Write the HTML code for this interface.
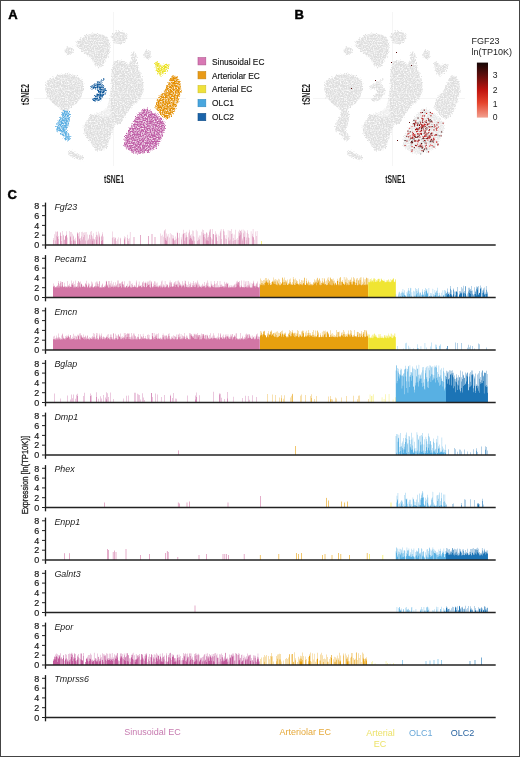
<!DOCTYPE html>
<html><head><meta charset="utf-8"><style>
html,body{margin:0;padding:0;background:#fff;}
body{width:520px;height:757px;overflow:hidden;position:relative;}
svg{position:absolute;left:0;top:0;will-change:transform;}
text{font-family:"Liberation Sans",sans-serif;fill:#1a1a1a;}
.pl{font-weight:bold;font-size:13px;fill:#000;stroke:#000;stroke-width:0.45px;}
.tk{font-size:9.8px;text-anchor:end;fill:#1a1a1a;stroke:#1a1a1a;stroke-width:0.2px;}
.gn{font-size:9.9px;font-style:italic;fill:#222;}
.lg{font-size:9.4px;fill:#151515;stroke:#151515;stroke-width:0.15px;}
.bl{font-size:9px;}
.ax{font-size:11px;fill:#1e1e1e;font-weight:bold;}
.ex{font-size:10px;fill:#2a2a2a;}
</style></head><body>
<svg width="520" height="757" viewBox="0 0 520 757">
<defs>
<filter id="tx" x="-10%" y="-10%" width="120%" height="120%" color-interpolation-filters="sRGB">
<feTurbulence type="fractalNoise" baseFrequency="0.8" numOctaves="2" seed="2" result="n"/>
<feDisplacementMap in="SourceGraphic" in2="n" scale="4.5" xChannelSelector="R" yChannelSelector="G" result="d0"/>
<feGaussianBlur in="d0" stdDeviation="0.45" result="d"/>
<feTurbulence type="fractalNoise" baseFrequency="0.7" numOctaves="2" seed="5" result="n2"/>
<feColorMatrix in="n2" type="matrix" values="0 0 0 0 1  0 0 0 0 1  0 0 0 0 1  2.4 0 0 0 -0.95" result="w"/>
<feComposite in="w" in2="d" operator="in" result="w2"/>
<feMerge><feMergeNode in="d"/><feMergeNode in="w2"/></feMerge>
</filter>
<linearGradient id="cb" x1="0" y1="1" x2="0" y2="0">
<stop offset="0" stop-color="#f2a08f"/><stop offset="0.27" stop-color="#e5432c"/><stop offset="0.5" stop-color="#c0140f"/><stop offset="0.77" stop-color="#5e0e0c"/><stop offset="1" stop-color="#150606"/>
</linearGradient></defs>
<rect x="0.5" y="0.5" width="519" height="756" fill="#fff" stroke="#444" stroke-width="1"/>
<text x="8.3" y="19.1" class="pl">A</text>
<text x="294.4" y="19.2" class="pl">B</text>
<text x="7.6" y="198.7" class="pl">C</text>
<g transform="translate(0,0)">
<path d="M113.5,12V166M34,98.5H186" stroke="#f3f3f3" stroke-width="0.8" fill="none"/>
<g filter="url(#tx)">
<path d="M84.6,35.8 L92.3,33.5 L101.5,34.2 L107.7,37.3 L110.0,43.5 L109.2,52.7 L107.0,58.0 L104.5,62.5 L102.0,66.5 L98.0,67.5 L94.5,65.0 L92.0,60.0 L89.2,56.5 L83.0,52.0 L77.0,46.5 L76.0,42.0 L80.0,38.8Z" fill="#dedede"/>
<ellipse cx="119.5" cy="37.5" rx="8" ry="6.5" fill="#dedede"/>
<ellipse cx="69" cy="51" rx="4.5" ry="4" fill="#dedede"/>
<ellipse cx="147.5" cy="54.5" rx="3.3" ry="4.6" fill="#dedede"/>
<path d="M50.4,78.8 L58.0,75.0 L68.8,73.5 L76.5,75.8 L82.7,80.4 L84.2,88.0 L81.0,97.3 L76.5,103.5 L71.0,107.0 L68.0,110.0 L63.0,111.0 L59.0,108.0 L53.5,103.5 L47.3,97.3 L45.0,88.0 L46.5,82.0Z" fill="#dedede"/>
<path d="M113.8,61.5 L120.0,60.5 L126.0,62.0 L128.5,66.0 L131.0,60.0 L131.5,53.0 L134.0,51.0 L136.5,55.0 L137.0,63.0 L138.0,67.3 L142.7,78.8 L143.8,90.4 L140.4,98.4 L134.6,104.2 L128.8,110.0 L126.5,113.5 L121.0,123.0 L114.4,125.0 L111.7,133.6 L109.0,140.4 L107.7,147.0 L102.3,151.0 L95.6,151.0 L92.2,144.4 L84.8,135.0 L83.5,127.0 L87.5,120.0 L90.2,114.8 L97.0,113.5 L103.6,110.8 L107.5,106.0 L109.2,100.0 L110.4,96.0 L111.0,84.6 L111.5,73.0 L112.5,66.0Z" fill="#dedede"/>
<path d="M67.5,152.0 L72.0,150.5 L76.0,153.0 L80.0,155.0 L84.0,157.5 L82.0,160.5 L77.0,159.0 L72.0,156.5 L68.5,155.0Z" fill="#dedede"/>
<path d="M62.0,111.0 L67.0,110.5 L70.0,113.0 L70.0,120.0 L68.0,127.0 L66.0,131.0 L69.0,134.0 L71.0,138.0 L69.0,141.0 L65.0,140.0 L63.0,136.0 L60.0,133.0 L56.0,130.0 L56.0,125.0 L59.0,120.0 L61.0,116.0Z" fill="#5aaee2"/>
<path d="M104.6,78.4 L101.5,80.5 L98.0,81.5 L96.0,84.0 L93.5,84.5 L90.2,86.2 L91.3,89.5 L95.0,88.5 L97.5,89.5 L97.0,93.0 L95.0,95.5 L92.5,98.3 L94.8,101.7 L100.0,100.6 L102.5,97.0 L104.6,94.2 L106.3,90.2 L103.0,86.0 L101.0,83.0 L104.6,79.5Z" fill="#125a9c"/>
<path d="M155.0,63.0 L158.0,61.8 L160.0,64.0 L162.0,67.0 L164.0,65.0 L167.0,63.5 L169.7,64.5 L168.0,69.0 L165.0,73.0 L161.0,75.8 L158.0,74.0 L156.0,69.0Z" fill="#ebe01c"/>
<path d="M170.4,76.2 L174.2,75.0 L178.0,77.7 L180.4,81.5 L181.2,89.2 L179.6,97.0 L178.0,103.0 L175.8,108.5 L172.7,113.8 L170.4,117.7 L166.5,119.2 L162.7,116.2 L158.0,111.5 L155.0,107.7 L156.5,102.3 L158.8,96.2 L163.5,92.3 L165.8,88.5 L168.0,83.8 L169.6,79.2Z" fill="#e48e00"/>
<path d="M142.1,109.8 L146.0,108.3 L150.8,110.7 L156.5,114.6 L162.3,119.4 L165.2,125.2 L164.2,131.9 L161.3,137.7 L158.5,144.4 L154.6,149.2 L148.8,152.1 L141.2,154.0 L133.5,153.0 L125.8,148.2 L123.8,144.4 L124.8,137.7 L128.7,130.0 L132.5,123.2 L136.3,116.5 L139.2,112.7Z" fill="#bf5ea6"/>
</g>
<path d="M104,101 L110.5,98.5 L110.8,116 L104,117.5 L96.5,114.5 L100,108Z" fill="#fff" opacity="0.45"/>
</g>
<g transform="translate(279,0)">
<path d="M113.5,12V166M34,98.5H186" stroke="#f3f3f3" stroke-width="0.8" fill="none"/>
<g filter="url(#tx)">
<path d="M84.6,35.8 L92.3,33.5 L101.5,34.2 L107.7,37.3 L110.0,43.5 L109.2,52.7 L107.0,58.0 L104.5,62.5 L102.0,66.5 L98.0,67.5 L94.5,65.0 L92.0,60.0 L89.2,56.5 L83.0,52.0 L77.0,46.5 L76.0,42.0 L80.0,38.8Z" fill="#dedede"/>
<ellipse cx="119.5" cy="37.5" rx="8" ry="6.5" fill="#dedede"/>
<ellipse cx="69" cy="51" rx="4.5" ry="4" fill="#dedede"/>
<ellipse cx="147.5" cy="54.5" rx="3.3" ry="4.6" fill="#dedede"/>
<path d="M50.4,78.8 L58.0,75.0 L68.8,73.5 L76.5,75.8 L82.7,80.4 L84.2,88.0 L81.0,97.3 L76.5,103.5 L71.0,107.0 L68.0,110.0 L63.0,111.0 L59.0,108.0 L53.5,103.5 L47.3,97.3 L45.0,88.0 L46.5,82.0Z" fill="#dedede"/>
<path d="M113.8,61.5 L120.0,60.5 L126.0,62.0 L128.5,66.0 L131.0,60.0 L131.5,53.0 L134.0,51.0 L136.5,55.0 L137.0,63.0 L138.0,67.3 L142.7,78.8 L143.8,90.4 L140.4,98.4 L134.6,104.2 L128.8,110.0 L126.5,113.5 L121.0,123.0 L114.4,125.0 L111.7,133.6 L109.0,140.4 L107.7,147.0 L102.3,151.0 L95.6,151.0 L92.2,144.4 L84.8,135.0 L83.5,127.0 L87.5,120.0 L90.2,114.8 L97.0,113.5 L103.6,110.8 L107.5,106.0 L109.2,100.0 L110.4,96.0 L111.0,84.6 L111.5,73.0 L112.5,66.0Z" fill="#dedede"/>
<path d="M67.5,152.0 L72.0,150.5 L76.0,153.0 L80.0,155.0 L84.0,157.5 L82.0,160.5 L77.0,159.0 L72.0,156.5 L68.5,155.0Z" fill="#dedede"/>
<path d="M62.0,111.0 L67.0,110.5 L70.0,113.0 L70.0,120.0 L68.0,127.0 L66.0,131.0 L69.0,134.0 L71.0,138.0 L69.0,141.0 L65.0,140.0 L63.0,136.0 L60.0,133.0 L56.0,130.0 L56.0,125.0 L59.0,120.0 L61.0,116.0Z" fill="#dedede"/>
<path d="M104.6,78.4 L101.5,80.5 L98.0,81.5 L96.0,84.0 L93.5,84.5 L90.2,86.2 L91.3,89.5 L95.0,88.5 L97.5,89.5 L97.0,93.0 L95.0,95.5 L92.5,98.3 L94.8,101.7 L100.0,100.6 L102.5,97.0 L104.6,94.2 L106.3,90.2 L103.0,86.0 L101.0,83.0 L104.6,79.5Z" fill="#dedede"/>
<path d="M155.0,63.0 L158.0,61.8 L160.0,64.0 L162.0,67.0 L164.0,65.0 L167.0,63.5 L169.7,64.5 L168.0,69.0 L165.0,73.0 L161.0,75.8 L158.0,74.0 L156.0,69.0Z" fill="#dedede"/>
<path d="M170.4,76.2 L174.2,75.0 L178.0,77.7 L180.4,81.5 L181.2,89.2 L179.6,97.0 L178.0,103.0 L175.8,108.5 L172.7,113.8 L170.4,117.7 L166.5,119.2 L162.7,116.2 L158.0,111.5 L155.0,107.7 L156.5,102.3 L158.8,96.2 L163.5,92.3 L165.8,88.5 L168.0,83.8 L169.6,79.2Z" fill="#dedede"/>
<path d="M142.1,109.8 L146.0,108.3 L150.8,110.7 L156.5,114.6 L162.3,119.4 L165.2,125.2 L164.2,131.9 L161.3,137.7 L158.5,144.4 L154.6,149.2 L148.8,152.1 L141.2,154.0 L133.5,153.0 L125.8,148.2 L123.8,144.4 L124.8,137.7 L128.7,130.0 L132.5,123.2 L136.3,116.5 L139.2,112.7Z" fill="#e8e8e8"/>
</g>
<path d="M104,101 L110.5,98.5 L110.8,116 L104,117.5 L96.5,114.5 L100,108Z" fill="#fff" opacity="0.45"/>
</g>
<rect x="408.1" y="136.3" width="1.1" height="1.1" fill="#a00e0e"/>
<rect x="428.0" y="151.3" width="1.1" height="1.1" fill="#a00e0e"/>
<rect x="428.4" y="137.5" width="1.1" height="1.1" fill="#d42020"/>
<rect x="411.8" y="139.7" width="1.1" height="1.1" fill="#9a9a9a"/>
<rect x="422.9" y="128.4" width="1.1" height="1.1" fill="#c81212"/>
<rect x="423.9" y="140.0" width="1.1" height="1.1" fill="#c81212"/>
<rect x="422.6" y="121.9" width="1.1" height="1.1" fill="#9a9a9a"/>
<rect x="428.0" y="120.4" width="1.1" height="1.1" fill="#b8b8b8"/>
<rect x="420.7" y="133.1" width="1.1" height="1.1" fill="#d42020"/>
<rect x="412.8" y="134.5" width="1.1" height="1.1" fill="#e05050"/>
<rect x="441.1" y="131.4" width="1.1" height="1.1" fill="#4a0a0a"/>
<rect x="418.0" y="139.6" width="1.1" height="1.1" fill="#4a0a0a"/>
<rect x="434.3" y="134.8" width="1.1" height="1.1" fill="#d42020"/>
<rect x="404.5" y="145.0" width="1.1" height="1.1" fill="#b01010"/>
<rect x="422.8" y="132.9" width="1.1" height="1.1" fill="#b8b8b8"/>
<rect x="428.2" y="132.0" width="1.1" height="1.1" fill="#c81212"/>
<rect x="417.7" y="134.7" width="1.1" height="1.1" fill="#b8b8b8"/>
<rect x="426.0" y="148.3" width="1.1" height="1.1" fill="#300606"/>
<rect x="429.1" y="137.4" width="1.1" height="1.1" fill="#b01010"/>
<rect x="421.3" y="126.2" width="1.1" height="1.1" fill="#7a0a0a"/>
<rect x="420.6" y="130.4" width="1.1" height="1.1" fill="#a00e0e"/>
<rect x="422.9" y="125.1" width="1.1" height="1.1" fill="#e05050"/>
<rect x="425.7" y="144.7" width="1.1" height="1.1" fill="#8a0c0c"/>
<rect x="412.0" y="137.5" width="1.1" height="1.1" fill="#b01010"/>
<rect x="414.6" y="135.8" width="1.1" height="1.1" fill="#4a0a0a"/>
<rect x="427.7" y="132.9" width="1.1" height="1.1" fill="#9a9a9a"/>
<rect x="418.0" y="127.9" width="1.1" height="1.1" fill="#8a0c0c"/>
<rect x="422.9" y="140.7" width="1.1" height="1.1" fill="#9a9a9a"/>
<rect x="416.8" y="140.5" width="1.1" height="1.1" fill="#d42020"/>
<rect x="427.4" y="135.5" width="1.1" height="1.1" fill="#b8b8b8"/>
<rect x="421.6" y="147.6" width="1.1" height="1.1" fill="#300606"/>
<rect x="417.1" y="127.8" width="1.1" height="1.1" fill="#9a9a9a"/>
<rect x="407.3" y="133.5" width="1.1" height="1.1" fill="#b01010"/>
<rect x="423.5" y="138.1" width="1.1" height="1.1" fill="#7a0a0a"/>
<rect x="424.3" y="124.1" width="1.1" height="1.1" fill="#7a0a0a"/>
<rect x="429.0" y="145.6" width="1.1" height="1.1" fill="#e05050"/>
<rect x="431.5" y="121.4" width="1.1" height="1.1" fill="#b01010"/>
<rect x="425.8" y="133.6" width="1.1" height="1.1" fill="#e05050"/>
<rect x="428.5" y="130.0" width="1.1" height="1.1" fill="#b01010"/>
<rect x="420.1" y="153.4" width="1.1" height="1.1" fill="#9a9a9a"/>
<rect x="408.3" y="132.8" width="1.1" height="1.1" fill="#d42020"/>
<rect x="429.4" y="141.4" width="1.1" height="1.1" fill="#b8b8b8"/>
<rect x="429.7" y="119.3" width="1.1" height="1.1" fill="#4a0a0a"/>
<rect x="421.0" y="127.6" width="1.1" height="1.1" fill="#b01010"/>
<rect x="417.5" y="133.4" width="1.1" height="1.1" fill="#8a0c0c"/>
<rect x="418.4" y="145.9" width="1.1" height="1.1" fill="#8a0c0c"/>
<rect x="425.8" y="135.4" width="1.1" height="1.1" fill="#a00e0e"/>
<rect x="436.2" y="129.9" width="1.1" height="1.1" fill="#e05050"/>
<rect x="416.0" y="128.8" width="1.1" height="1.1" fill="#c81212"/>
<rect x="431.6" y="126.0" width="1.1" height="1.1" fill="#300606"/>
<rect x="435.8" y="134.2" width="1.1" height="1.1" fill="#a00e0e"/>
<rect x="429.3" y="136.1" width="1.1" height="1.1" fill="#8a0c0c"/>
<rect x="425.2" y="132.0" width="1.1" height="1.1" fill="#e05050"/>
<rect x="418.9" y="134.6" width="1.1" height="1.1" fill="#8a0c0c"/>
<rect x="411.5" y="146.0" width="1.1" height="1.1" fill="#d42020"/>
<rect x="428.5" y="123.3" width="1.1" height="1.1" fill="#c81212"/>
<rect x="430.0" y="120.7" width="1.1" height="1.1" fill="#9a9a9a"/>
<rect x="415.6" y="122.4" width="1.1" height="1.1" fill="#c81212"/>
<rect x="417.7" y="129.0" width="1.1" height="1.1" fill="#b8b8b8"/>
<rect x="427.1" y="137.9" width="1.1" height="1.1" fill="#b01010"/>
<rect x="419.6" y="120.7" width="1.1" height="1.1" fill="#9a9a9a"/>
<rect x="409.7" y="135.4" width="1.1" height="1.1" fill="#e05050"/>
<rect x="436.1" y="141.6" width="1.1" height="1.1" fill="#c81212"/>
<rect x="419.3" y="136.6" width="1.1" height="1.1" fill="#c81212"/>
<rect x="423.0" y="149.7" width="1.1" height="1.1" fill="#a00e0e"/>
<rect x="423.9" y="115.4" width="1.1" height="1.1" fill="#a00e0e"/>
<rect x="420.9" y="133.7" width="1.1" height="1.1" fill="#4a0a0a"/>
<rect x="430.0" y="144.4" width="1.1" height="1.1" fill="#e05050"/>
<rect x="414.9" y="121.5" width="1.1" height="1.1" fill="#7a0a0a"/>
<rect x="413.8" y="147.1" width="1.1" height="1.1" fill="#7a0a0a"/>
<rect x="421.2" y="124.3" width="1.1" height="1.1" fill="#7a0a0a"/>
<rect x="410.6" y="142.1" width="1.1" height="1.1" fill="#300606"/>
<rect x="422.4" y="138.0" width="1.1" height="1.1" fill="#300606"/>
<rect x="431.6" y="112.9" width="1.1" height="1.1" fill="#d42020"/>
<rect x="429.0" y="129.1" width="1.1" height="1.1" fill="#8a0c0c"/>
<rect x="430.0" y="140.5" width="1.1" height="1.1" fill="#7a0a0a"/>
<rect x="426.0" y="122.1" width="1.1" height="1.1" fill="#e05050"/>
<rect x="411.9" y="132.4" width="1.1" height="1.1" fill="#9a9a9a"/>
<rect x="417.0" y="133.3" width="1.1" height="1.1" fill="#c81212"/>
<rect x="418.5" y="147.5" width="1.1" height="1.1" fill="#b8b8b8"/>
<rect x="417.5" y="117.5" width="1.1" height="1.1" fill="#4a0a0a"/>
<rect x="414.2" y="122.9" width="1.1" height="1.1" fill="#7a0a0a"/>
<rect x="440.5" y="135.3" width="1.1" height="1.1" fill="#7a0a0a"/>
<rect x="424.4" y="111.8" width="1.1" height="1.1" fill="#b8b8b8"/>
<rect x="424.8" y="135.7" width="1.1" height="1.1" fill="#e05050"/>
<rect x="436.4" y="127.5" width="1.1" height="1.1" fill="#7a0a0a"/>
<rect x="424.6" y="124.1" width="1.1" height="1.1" fill="#c81212"/>
<rect x="421.4" y="117.8" width="1.1" height="1.1" fill="#c81212"/>
<rect x="424.6" y="140.3" width="1.1" height="1.1" fill="#300606"/>
<rect x="418.7" y="124.2" width="1.1" height="1.1" fill="#b01010"/>
<rect x="436.3" y="124.4" width="1.1" height="1.1" fill="#8a0c0c"/>
<rect x="414.4" y="134.3" width="1.1" height="1.1" fill="#c81212"/>
<rect x="411.3" y="142.4" width="1.1" height="1.1" fill="#e05050"/>
<rect x="406.2" y="135.8" width="1.1" height="1.1" fill="#7a0a0a"/>
<rect x="426.6" y="138.0" width="1.1" height="1.1" fill="#b01010"/>
<rect x="427.0" y="123.6" width="1.1" height="1.1" fill="#d42020"/>
<rect x="430.3" y="134.4" width="1.1" height="1.1" fill="#b01010"/>
<rect x="422.4" y="118.8" width="1.1" height="1.1" fill="#c81212"/>
<rect x="418.5" y="133.3" width="1.1" height="1.1" fill="#e05050"/>
<rect x="411.6" y="149.4" width="1.1" height="1.1" fill="#8a0c0c"/>
<rect x="431.3" y="123.9" width="1.1" height="1.1" fill="#b8b8b8"/>
<rect x="427.4" y="136.2" width="1.1" height="1.1" fill="#e05050"/>
<rect x="415.2" y="129.4" width="1.1" height="1.1" fill="#e05050"/>
<rect x="428.5" y="119.7" width="1.1" height="1.1" fill="#4a0a0a"/>
<rect x="430.9" y="120.5" width="1.1" height="1.1" fill="#4a0a0a"/>
<rect x="424.9" y="145.6" width="1.1" height="1.1" fill="#e05050"/>
<rect x="431.2" y="132.3" width="1.1" height="1.1" fill="#e05050"/>
<rect x="433.4" y="129.4" width="1.1" height="1.1" fill="#b01010"/>
<rect x="424.3" y="135.5" width="1.1" height="1.1" fill="#8a0c0c"/>
<rect x="433.0" y="137.8" width="1.1" height="1.1" fill="#b01010"/>
<rect x="437.6" y="122.1" width="1.1" height="1.1" fill="#b01010"/>
<rect x="419.6" y="144.9" width="1.1" height="1.1" fill="#8a0c0c"/>
<rect x="416.0" y="131.1" width="1.1" height="1.1" fill="#b01010"/>
<rect x="433.5" y="146.5" width="1.1" height="1.1" fill="#c81212"/>
<rect x="427.0" y="133.5" width="1.1" height="1.1" fill="#c81212"/>
<rect x="417.4" y="122.6" width="1.1" height="1.1" fill="#300606"/>
<rect x="421.4" y="145.5" width="1.1" height="1.1" fill="#a00e0e"/>
<rect x="420.4" y="126.2" width="1.1" height="1.1" fill="#e05050"/>
<rect x="435.7" y="134.4" width="1.1" height="1.1" fill="#e05050"/>
<rect x="429.5" y="121.3" width="1.1" height="1.1" fill="#7a0a0a"/>
<rect x="422.9" y="150.8" width="1.1" height="1.1" fill="#300606"/>
<rect x="428.5" y="126.2" width="1.1" height="1.1" fill="#300606"/>
<rect x="426.3" y="127.2" width="1.1" height="1.1" fill="#7a0a0a"/>
<rect x="425.3" y="128.0" width="1.1" height="1.1" fill="#7a0a0a"/>
<rect x="424.0" y="135.7" width="1.1" height="1.1" fill="#b01010"/>
<rect x="437.3" y="144.4" width="1.1" height="1.1" fill="#b01010"/>
<rect x="425.5" y="147.4" width="1.1" height="1.1" fill="#c81212"/>
<rect x="432.2" y="140.5" width="1.1" height="1.1" fill="#300606"/>
<rect x="430.3" y="141.1" width="1.1" height="1.1" fill="#300606"/>
<rect x="422.5" y="136.1" width="1.1" height="1.1" fill="#d42020"/>
<rect x="438.6" y="135.0" width="1.1" height="1.1" fill="#9a9a9a"/>
<rect x="407.4" y="130.6" width="1.1" height="1.1" fill="#8a0c0c"/>
<rect x="422.9" y="137.3" width="1.1" height="1.1" fill="#8a0c0c"/>
<rect x="425.2" y="129.7" width="1.1" height="1.1" fill="#c81212"/>
<rect x="431.5" y="145.0" width="1.1" height="1.1" fill="#d42020"/>
<rect x="421.9" y="121.8" width="1.1" height="1.1" fill="#a00e0e"/>
<rect x="412.2" y="136.8" width="1.1" height="1.1" fill="#7a0a0a"/>
<rect x="419.6" y="130.9" width="1.1" height="1.1" fill="#c81212"/>
<rect x="424.7" y="126.0" width="1.1" height="1.1" fill="#a00e0e"/>
<rect x="414.6" y="140.5" width="1.1" height="1.1" fill="#7a0a0a"/>
<rect x="417.3" y="128.9" width="1.1" height="1.1" fill="#c81212"/>
<rect x="419.0" y="136.3" width="1.1" height="1.1" fill="#b8b8b8"/>
<rect x="433.7" y="126.5" width="1.1" height="1.1" fill="#7a0a0a"/>
<rect x="423.7" y="123.6" width="1.1" height="1.1" fill="#d42020"/>
<rect x="420.4" y="112.1" width="1.1" height="1.1" fill="#b01010"/>
<rect x="427.3" y="139.6" width="1.1" height="1.1" fill="#e05050"/>
<rect x="422.0" y="120.3" width="1.1" height="1.1" fill="#8a0c0c"/>
<rect x="429.7" y="136.5" width="1.1" height="1.1" fill="#a00e0e"/>
<rect x="429.0" y="134.8" width="1.1" height="1.1" fill="#b8b8b8"/>
<rect x="418.8" y="139.6" width="1.1" height="1.1" fill="#b01010"/>
<rect x="435.4" y="134.3" width="1.1" height="1.1" fill="#7a0a0a"/>
<rect x="420.6" y="143.6" width="1.1" height="1.1" fill="#c81212"/>
<rect x="422.1" y="115.4" width="1.1" height="1.1" fill="#c81212"/>
<rect x="427.5" y="137.1" width="1.1" height="1.1" fill="#300606"/>
<rect x="409.1" y="127.8" width="1.1" height="1.1" fill="#e05050"/>
<rect x="433.6" y="139.1" width="1.1" height="1.1" fill="#c81212"/>
<rect x="429.1" y="120.7" width="1.1" height="1.1" fill="#9a9a9a"/>
<rect x="409.7" y="138.7" width="1.1" height="1.1" fill="#9a9a9a"/>
<rect x="416.1" y="145.1" width="1.1" height="1.1" fill="#a00e0e"/>
<rect x="413.4" y="119.8" width="1.1" height="1.1" fill="#4a0a0a"/>
<rect x="438.8" y="135.3" width="1.1" height="1.1" fill="#9a9a9a"/>
<rect x="426.9" y="133.8" width="1.1" height="1.1" fill="#b8b8b8"/>
<rect x="421.0" y="128.3" width="1.1" height="1.1" fill="#300606"/>
<rect x="410.2" y="137.6" width="1.1" height="1.1" fill="#7a0a0a"/>
<rect x="425.6" y="133.5" width="1.1" height="1.1" fill="#a00e0e"/>
<rect x="421.5" y="150.0" width="1.1" height="1.1" fill="#c81212"/>
<rect x="412.8" y="123.1" width="1.1" height="1.1" fill="#7a0a0a"/>
<rect x="427.3" y="123.7" width="1.1" height="1.1" fill="#8a0c0c"/>
<rect x="429.1" y="140.8" width="1.1" height="1.1" fill="#b8b8b8"/>
<rect x="408.7" y="139.8" width="1.1" height="1.1" fill="#b8b8b8"/>
<rect x="411.5" y="126.1" width="1.1" height="1.1" fill="#e05050"/>
<rect x="423.3" y="126.3" width="1.1" height="1.1" fill="#4a0a0a"/>
<rect x="420.2" y="123.6" width="1.1" height="1.1" fill="#d42020"/>
<rect x="412.0" y="131.8" width="1.1" height="1.1" fill="#e05050"/>
<rect x="414.0" y="124.3" width="1.1" height="1.1" fill="#4a0a0a"/>
<rect x="418.9" y="124.9" width="1.1" height="1.1" fill="#4a0a0a"/>
<rect x="421.1" y="124.5" width="1.1" height="1.1" fill="#7a0a0a"/>
<rect x="426.3" y="148.4" width="1.1" height="1.1" fill="#b8b8b8"/>
<rect x="428.7" y="135.4" width="1.1" height="1.1" fill="#b01010"/>
<rect x="423.9" y="132.5" width="1.1" height="1.1" fill="#7a0a0a"/>
<rect x="417.1" y="130.8" width="1.1" height="1.1" fill="#d42020"/>
<rect x="426.3" y="128.5" width="1.1" height="1.1" fill="#7a0a0a"/>
<rect x="414.1" y="123.8" width="1.1" height="1.1" fill="#a00e0e"/>
<rect x="415.2" y="140.3" width="1.1" height="1.1" fill="#a00e0e"/>
<rect x="425.7" y="134.6" width="1.1" height="1.1" fill="#9a9a9a"/>
<rect x="430.4" y="115.2" width="1.1" height="1.1" fill="#a00e0e"/>
<rect x="413.8" y="136.1" width="1.1" height="1.1" fill="#8a0c0c"/>
<rect x="410.6" y="144.3" width="1.1" height="1.1" fill="#9a9a9a"/>
<rect x="415.0" y="144.9" width="1.1" height="1.1" fill="#8a0c0c"/>
<rect x="411.9" y="136.8" width="1.1" height="1.1" fill="#d42020"/>
<rect x="412.0" y="134.4" width="1.1" height="1.1" fill="#e05050"/>
<rect x="432.7" y="139.4" width="1.1" height="1.1" fill="#a00e0e"/>
<rect x="425.7" y="120.2" width="1.1" height="1.1" fill="#c81212"/>
<rect x="427.5" y="135.7" width="1.1" height="1.1" fill="#b8b8b8"/>
<rect x="424.0" y="148.5" width="1.1" height="1.1" fill="#300606"/>
<rect x="417.5" y="136.3" width="1.1" height="1.1" fill="#a00e0e"/>
<rect x="442.6" y="122.6" width="1.1" height="1.1" fill="#a00e0e"/>
<rect x="413.8" y="134.1" width="1.1" height="1.1" fill="#e05050"/>
<rect x="421.1" y="142.9" width="1.1" height="1.1" fill="#300606"/>
<rect x="436.6" y="134.6" width="1.1" height="1.1" fill="#9a9a9a"/>
<rect x="415.7" y="136.9" width="1.1" height="1.1" fill="#9a9a9a"/>
<rect x="413.9" y="140.4" width="1.1" height="1.1" fill="#8a0c0c"/>
<rect x="428.0" y="119.3" width="1.1" height="1.1" fill="#8a0c0c"/>
<rect x="430.8" y="138.8" width="1.1" height="1.1" fill="#4a0a0a"/>
<rect x="423.8" y="124.5" width="1.1" height="1.1" fill="#c81212"/>
<rect x="435.9" y="128.5" width="1.1" height="1.1" fill="#b01010"/>
<rect x="433.2" y="137.7" width="1.1" height="1.1" fill="#e05050"/>
<rect x="424.7" y="134.4" width="1.1" height="1.1" fill="#d42020"/>
<rect x="424.6" y="129.1" width="1.1" height="1.1" fill="#b8b8b8"/>
<rect x="418.3" y="127.7" width="1.1" height="1.1" fill="#b8b8b8"/>
<rect x="406.4" y="140.5" width="1.1" height="1.1" fill="#a00e0e"/>
<rect x="422.2" y="118.1" width="1.1" height="1.1" fill="#a00e0e"/>
<rect x="413.5" y="138.4" width="1.1" height="1.1" fill="#300606"/>
<rect x="415.3" y="120.1" width="1.1" height="1.1" fill="#e05050"/>
<rect x="422.4" y="127.8" width="1.1" height="1.1" fill="#9a9a9a"/>
<rect x="430.3" y="126.0" width="1.1" height="1.1" fill="#b8b8b8"/>
<rect x="420.5" y="132.8" width="1.1" height="1.1" fill="#b01010"/>
<rect x="435.5" y="127.7" width="1.1" height="1.1" fill="#e05050"/>
<rect x="420.0" y="133.3" width="1.1" height="1.1" fill="#d42020"/>
<rect x="411.3" y="137.7" width="1.1" height="1.1" fill="#8a0c0c"/>
<rect x="421.2" y="138.8" width="1.1" height="1.1" fill="#b8b8b8"/>
<rect x="416.5" y="136.9" width="1.1" height="1.1" fill="#7a0a0a"/>
<rect x="411.1" y="141.0" width="1.1" height="1.1" fill="#4a0a0a"/>
<rect x="424.6" y="131.2" width="1.1" height="1.1" fill="#4a0a0a"/>
<rect x="419.9" y="122.3" width="1.1" height="1.1" fill="#8a0c0c"/>
<rect x="422.1" y="124.9" width="1.1" height="1.1" fill="#c81212"/>
<rect x="421.0" y="129.9" width="1.1" height="1.1" fill="#a00e0e"/>
<rect x="423.4" y="130.3" width="1.1" height="1.1" fill="#d42020"/>
<rect x="424.2" y="142.3" width="1.1" height="1.1" fill="#9a9a9a"/>
<rect x="422.5" y="150.2" width="1.1" height="1.1" fill="#9a9a9a"/>
<rect x="409.7" y="131.3" width="1.1" height="1.1" fill="#4a0a0a"/>
<rect x="434.6" y="125.8" width="1.1" height="1.1" fill="#e05050"/>
<rect x="412.9" y="133.1" width="1.1" height="1.1" fill="#b01010"/>
<rect x="429.2" y="126.6" width="1.1" height="1.1" fill="#e05050"/>
<rect x="421.6" y="127.0" width="1.1" height="1.1" fill="#7a0a0a"/>
<rect x="415.1" y="136.8" width="1.1" height="1.1" fill="#8a0c0c"/>
<rect x="424.3" y="121.2" width="1.1" height="1.1" fill="#e05050"/>
<rect x="426.0" y="112.9" width="1.1" height="1.1" fill="#c81212"/>
<rect x="416.8" y="124.9" width="1.1" height="1.1" fill="#c81212"/>
<rect x="413.5" y="134.7" width="1.1" height="1.1" fill="#b01010"/>
<rect x="416.2" y="127.8" width="1.1" height="1.1" fill="#8a0c0c"/>
<rect x="421.8" y="125.6" width="1.1" height="1.1" fill="#e05050"/>
<rect x="432.7" y="145.9" width="1.1" height="1.1" fill="#9a9a9a"/>
<rect x="419.7" y="146.1" width="1.1" height="1.1" fill="#8a0c0c"/>
<rect x="415.1" y="128.9" width="1.1" height="1.1" fill="#7a0a0a"/>
<rect x="429.8" y="112.0" width="1.1" height="1.1" fill="#8a0c0c"/>
<rect x="428.2" y="136.5" width="1.1" height="1.1" fill="#e05050"/>
<rect x="430.8" y="139.5" width="1.1" height="1.1" fill="#a00e0e"/>
<rect x="436.1" y="141.5" width="1.1" height="1.1" fill="#e05050"/>
<rect x="426.6" y="124.4" width="1.1" height="1.1" fill="#7a0a0a"/>
<rect x="437.5" y="143.6" width="1.1" height="1.1" fill="#7a0a0a"/>
<rect x="431.5" y="134.8" width="1.1" height="1.1" fill="#a00e0e"/>
<rect x="417.6" y="141.2" width="1.1" height="1.1" fill="#d42020"/>
<rect x="419.1" y="128.3" width="1.1" height="1.1" fill="#d42020"/>
<rect x="419.1" y="127.0" width="1.1" height="1.1" fill="#b01010"/>
<rect x="422.1" y="126.3" width="1.1" height="1.1" fill="#a00e0e"/>
<rect x="431.2" y="132.9" width="1.1" height="1.1" fill="#a00e0e"/>
<rect x="422.1" y="146.8" width="1.1" height="1.1" fill="#a00e0e"/>
<rect x="423.8" y="109.6" width="1.1" height="1.1" fill="#7a0a0a"/>
<rect x="425.9" y="128.2" width="1.1" height="1.1" fill="#b8b8b8"/>
<rect x="411.7" y="142.1" width="1.1" height="1.1" fill="#4a0a0a"/>
<rect x="437.9" y="126.5" width="1.1" height="1.1" fill="#e05050"/>
<rect x="417.0" y="124.3" width="1.1" height="1.1" fill="#7a0a0a"/>
<rect x="417.4" y="135.9" width="1.1" height="1.1" fill="#4a0a0a"/>
<rect x="433.7" y="127.0" width="1.1" height="1.1" fill="#b8b8b8"/>
<rect x="411.3" y="150.8" width="1.1" height="1.1" fill="#d42020"/>
<rect x="432.7" y="141.6" width="1.1" height="1.1" fill="#8a0c0c"/>
<rect x="425.5" y="142.6" width="1.1" height="1.1" fill="#a00e0e"/>
<rect x="417.2" y="129.3" width="1.1" height="1.1" fill="#7a0a0a"/>
<rect x="404.5" y="140.0" width="1.1" height="1.1" fill="#300606"/>
<rect x="430.7" y="126.2" width="1.1" height="1.1" fill="#e05050"/>
<rect x="425.6" y="138.0" width="1.1" height="1.1" fill="#8a0c0c"/>
<rect x="425.5" y="121.8" width="1.1" height="1.1" fill="#300606"/>
<rect x="433.9" y="124.4" width="1.1" height="1.1" fill="#b01010"/>
<rect x="414.0" y="125.4" width="1.1" height="1.1" fill="#7a0a0a"/>
<rect x="430.4" y="133.2" width="1.1" height="1.1" fill="#300606"/>
<rect x="417.0" y="143.6" width="1.1" height="1.1" fill="#e05050"/>
<rect x="412.0" y="141.5" width="1.1" height="1.1" fill="#4a0a0a"/>
<rect x="427.6" y="117.9" width="1.1" height="1.1" fill="#8a0c0c"/>
<rect x="420.7" y="146.3" width="1.1" height="1.1" fill="#4a0a0a"/>
<rect x="396" y="52" width="1" height="1" fill="#5a0a0a"/>
<rect x="411" y="65" width="1" height="1" fill="#5a0a0a"/>
<rect x="391" y="62" width="1" height="1" fill="#5a0a0a"/>
<rect x="375" y="80" width="1" height="1" fill="#5a0a0a"/>
<rect x="351" y="88" width="1" height="1" fill="#5a0a0a"/>
<rect x="409" y="122" width="1" height="1" fill="#5a0a0a"/>
<rect x="422" y="112" width="1" height="1" fill="#5a0a0a"/>
<rect x="397" y="140" width="1" height="1" fill="#5a0a0a"/>
<rect x="198" y="57.60" width="7.8" height="7.3" fill="#d878b4" stroke="#b0558f" stroke-width="0.6"/>
<text transform="translate(212,64.5) scale(0.89,1)" class="lg">Sinusoidal EC</text>
<rect x="198" y="71.55" width="7.8" height="7.3" fill="#e99a17" stroke="#c88510" stroke-width="0.6"/>
<text transform="translate(212,78.5) scale(0.89,1)" class="lg">Arteriolar EC</text>
<rect x="198" y="85.50" width="7.8" height="7.3" fill="#efe13a" stroke="#d0c22a" stroke-width="0.6"/>
<text transform="translate(212,92.4) scale(0.89,1)" class="lg">Arterial EC</text>
<rect x="198" y="99.45" width="7.8" height="7.3" fill="#48a6de" stroke="#3088c0" stroke-width="0.6"/>
<text transform="translate(212,106.3) scale(0.89,1)" class="lg">OLC1</text>
<rect x="198" y="113.40" width="7.8" height="7.3" fill="#1a64aa" stroke="#124e88" stroke-width="0.6"/>
<text transform="translate(212,120.3) scale(0.89,1)" class="lg">OLC2</text>
<text transform="translate(28.9,104.9) rotate(-90) scale(0.64,1)" class="ax">tSNE2</text>
<text transform="translate(103.9,182.7) scale(0.62,1)" class="ax">tSNE1</text>
<text transform="translate(310.4,104.7) rotate(-90) scale(0.64,1)" class="ax">tSNE2</text>
<text transform="translate(385.3,182.7) scale(0.62,1)" class="ax">tSNE1</text>
<text x="471.6" y="44.2" style="font-size:9px;fill:#222">FGF23</text>
<text x="471.6" y="54.6" style="font-size:9px;fill:#222">ln(TP10K)</text>

<rect x="476.9" y="62.6" width="11.1" height="55" fill="url(#cb)"/>
<text x="492.8" y="77.7" style="font-size:8.6px;fill:#222">3</text>
<text x="492.8" y="92.9" style="font-size:8.6px;fill:#222">2</text>
<text x="492.8" y="106.8" style="font-size:8.6px;fill:#222">1</text>
<text x="492.8" y="120" style="font-size:8.6px;fill:#222">0</text>
<path d="M53.00,245.0V238.1h0.333V240.1h0.333V245.0h0.667V234.2h0.333V245.0h0.333V231.5h0.333V245.0h0.333V240.6h0.333V235.8h0.333V245.0h0.333V231.7h0.333V237.0h0.333V231.1h0.333V232.0h0.333V235.9h0.333V239.0h0.333V245.0h1.333V232.9h0.333V232.0h0.333V235.8h0.333V245.0h0.333V236.1h0.333V240.9h0.333V231.0h0.333V245.0h0.667V234.7h0.333V245.0h0.333V235.6h0.333V245.0h0.333V239.6h0.333V240.1h0.333V235.8h0.333V236.4h0.333V235.9h0.333V235.0h0.333V234.7h0.333V231.3h0.333V245.0h0.333V237.5h0.333V245.0h1.333V230.9h0.333V245.0h0.667V237.3h0.333V231.9h0.333V236.3h0.333V232.0h0.333V240.8h0.333V245.0h1V233.8h0.333V235.6h0.333V240.2h0.333V236.6h0.333V240.8h0.333V245.0h0.333V239.2h0.333V237.7h0.333V240.7h0.333V245.0h1.333V233.1h0.333V233.8h0.333V232.0h0.333V233.3h0.333V236.2h0.333V245.0h0.333V239.2h0.333V238.4h0.333V232.1h0.333V245.0h0.333V238.1h0.333V240.8h0.333V232.0h0.333V236.6h0.333V245.0h0.667V239.5h0.333V231.7h0.333V245.0h0.333V232.8h0.333V236.9h0.333V232.3h0.333V245.0h0.333V235.1h0.333V232.3h0.333V240.4h0.333V245.0h0.333V232.0h0.333V245.0h0.667V234.4h0.333V245.0h0.333V240.6h0.333V238.6h0.333V245.0h0.333V239.8h0.333V234.8h0.333V245.0h0.333V234.8h0.333V245.0h0.333V239.3h0.333V231.7h0.333V245.0h0.333V235.1h0.333V231.0h0.333V236.3h0.333V240.8h0.333V238.8h0.333V233.2h0.333V238.8h0.333V245.0h0.333V238.9h0.333V239.7h0.333V245.0h0.667V237.0h0.333V245.0h0.333V231.7h0.333V239.8h0.333V235.0h0.333V234.8h0.333V245.0h0.333V236.5h0.333V245.0h0.667V231.4h0.333V233.4h0.333V235.4h0.333V237.2h0.333V245.0h1V236.7h0.333V235.7h0.333V240.9h0.333V234.2h0.333V232.3h0.333V240.0h0.333V236.6h0.333V245.0h8.667V237.7h0.333V245.0h0.333V231.6h0.333V236.9h0.333V245.0h0.667V237.3h0.333V245.0h0.333V239.3h0.333V245.0h0.333V237.9h0.333V237.6h0.333V240.9h0.333V245.0h1V239.2h0.333V245.0h0.333V237.2h0.333V245.0h1.667V237.8h0.333V245.0h0.333V238.4h0.333V245.0h3V238.3h0.333V236.3h0.333V239.6h0.333V237.1h0.333V245.0h1.667V238.0h0.333V234.8h0.333V245.0h0.333V241.0h0.333V239.1h0.333V245.0h1V238.2h0.333V232.0h0.333V245.0h30.333V233.5h0.333V236.1h0.333V245.0h0.667V234.8h0.333V245.0h1.333V236.8h0.333V231.3h0.333V245.0h0.333V230.1h0.333V240.0h0.333V238.1h0.333V229.2h0.333V239.4h0.333V233.4h0.333V241.1h0.333V237.1h0.333V235.8h0.333V245.0h0.333V234.1h0.333V245.0h1V237.6h0.333V245.0h0.333V232.9h0.333V245.0h1.333V234.2h0.333V234.9h0.333V238.4h0.333V245.0h0.333V238.9h0.333V237.9h0.333V235.6h0.333V240.6h0.333V240.3h0.333V245.0h0.333V236.4h0.333V245.0h0.333V239.7h0.333V245.0h0.667V238.7h0.333V231.8h0.333V232.9h0.667V237.8h0.333V245.0h1.333V233.0h0.333V245.0h1V237.3h0.333V245.0h0.333V239.5h0.333V234.6h0.333V245.0h0.667V233.3h0.333V234.0h0.333V229.8h0.333V245.0h0.333V232.9h0.333V240.8h0.333V232.7h0.333V245.0h0.333V237.8h0.333V235.2h0.333V237.3h0.333V231.7h0.333V245.0h0.333V237.1h0.333V245.0h1V233.2h0.333V231.7h0.333V239.6h0.333V229.8h0.333V235.9h0.333V237.9h0.333V234.9h0.333V234.1h0.333V239.0h0.333V237.4h0.333V240.7h0.333V230.4h0.333V240.5h0.333V236.0h0.333V245.0h0.333V230.8h0.333V236.8h0.333V245.0h0.333V240.7h0.333V245.0h1V229.7h0.333V245.0h0.667V231.2h0.333V245.0h0.333V240.9h0.333V240.1h0.333V237.5h0.333V245.0h0.333V235.6h0.333V239.2h0.333V245.0h0.333V235.4h0.333V245.0h1V231.7h0.333V245.0h1V229.6h0.333V233.0h0.333V230.1h0.333V234.8h0.333V237.1h0.333V233.7h0.333V245.0h0.333V233.9h0.333V238.4h0.333V245.0h0.333V240.4h0.333V232.5h0.667V233.4h0.333V240.3h0.333V237.6h0.333V241.0h0.333V237.0h0.333V235.3h0.333V245.0h0.333V230.6h0.333V232.3h0.333V229.0h0.333V229.4h0.333V236.9h0.333V245.0h0.333V238.5h0.333V245.0h0.667V239.5h0.333V229.0h0.333V234.0h0.333V233.9h0.333V234.2h0.333V245.0h1V234.9h0.333V231.2h0.333V245.0h0.333V233.6h0.333V237.2h0.333V234.4h0.333V245.0h0.333V240.9h0.333V245.0h0.333V234.5h0.333V245.0h0.667V236.1h0.333V245.0h0.667V232.6h0.333V245.0h0.333V230.8h0.333V229.0h0.333V238.9h0.333V245.0h1.667V228.9h0.333V230.7h0.333V245.0h0.333V231.6h0.333V235.3h0.333V245.0h0.333V238.4h0.333V245.0h0.333V235.0h0.333V245.0h0.333V238.9h0.333V245.0h1V230.2h0.333V245.0h0.333V237.4h0.333V240.8h0.333V230.8h0.333V245.0h0.333V239.5h0.333V231.0h0.333V245.0h0.667V229.0h0.333V234.1h0.333V245.0h0.667V233.5h0.333V241.0h0.333V238.0h0.333V245.0h0.333V234.4h0.333V245.0h0.333V240.0h0.333V245.0h0.333V240.0h0.333V229.7h0.333V245.0h0.333V239.3h0.333V245.0h1V238.1h0.333V239.9h0.333V245.0h0.333V231.4h0.333V236.3h0.333V229.7h0.333V233.0h0.333V234.7h0.333V230.7h0.333V230.9h0.333V245.0h0.333V229.8h0.333V232.5h0.333V245.0h0.333V240.6h0.333V238.4h0.333V229.5h0.333V233.2h0.333V245.0h0.333V236.9h0.333V230.4h0.333V236.7h0.333V231.4h0.333V245.0h0.667V240.3h0.333V245.0h0.333V237.4h0.333V232.8h0.333V245.0h0.333V230.3h0.333V245.0h0.333V234.0h0.333V237.5h0.333V238.0h0.333V245.0h1.667V231.3h0.333V245.0h1V236.2h0.333V233.7h0.333V229.0h0.333V237.4h0.333V237.1h0.333V245.0h0.333V239.7h0.333V245.0h1V231.5h0.333V245.0h0.667V236.1h0.333V230.9h0.333V245.0h2.667V245.0Z" fill="#d276a5" opacity="0.8"/>
<rect x="133.6" y="237.0" width="0.8" height="8.0" fill="#d276a5" opacity="0.75"/>
<rect x="140.2" y="235.0" width="0.8" height="10.0" fill="#d276a5" opacity="0.75"/>
<rect x="148.2" y="236.0" width="0.8" height="9.0" fill="#d276a5" opacity="0.75"/>
<rect x="151.6" y="234.0" width="0.8" height="11.0" fill="#d276a5" opacity="0.75"/>
<rect x="154.6" y="237.0" width="0.8" height="8.0" fill="#d276a5" opacity="0.75"/>
<rect x="261.1" y="241.0" width="0.8" height="4.0" fill="#f0e532" opacity="0.75"/>
<path d="M45.5,202.6V248.8" stroke="#1a1a1a" stroke-width="1.3" fill="none"/><path d="M45,245.0H495.7" stroke="#222" stroke-width="1.5" fill="none"/>
<path d="M42,245.0H45.5M42,235.2H45.5M42,225.4H45.5M42,215.6H45.5M42,205.8H45.5" stroke="#222" stroke-width="1" fill="none"/>
<text transform="translate(39.2,248.2) scale(0.92,1)" class="tk">0</text>
<text transform="translate(39.2,238.4) scale(0.92,1)" class="tk">2</text>
<text transform="translate(39.2,228.6) scale(0.92,1)" class="tk">4</text>
<text transform="translate(39.2,218.8) scale(0.92,1)" class="tk">6</text>
<text transform="translate(39.2,209.0) scale(0.92,1)" class="tk">8</text>
<text transform="translate(54.4,209.8) scale(0.9,1)" class="gn">Fgf23</text>
<path d="M53.00,297.5V286.9h0.333V285.9h0.333V283.4h0.333V286.1h0.333V285.6h0.333V287.4h0.333V287.1h0.333V287.2h0.333V287.4h0.333V286.4h0.667V287.4h0.667V285.9h0.333V285.3h0.333V281.0h0.333V287.5h0.333V283.1h0.333V284.3h0.333V285.9h0.333V287.4h0.333V280.9h0.333V282.7h0.333V286.6h0.333V287.2h0.333V281.7h0.333V286.2h0.333V282.1h0.333V285.6h0.333V281.9h0.333V287.1h0.333V287.2h0.333V286.5h0.333V286.8h0.333V286.4h0.333V282.8h0.333V285.9h0.333V286.7h0.333V287.4h0.333V287.0h0.333V287.2h0.333V286.2h0.333V286.6h0.333V287.5h0.333V281.0h0.333V285.4h0.333V287.1h0.333V285.5h0.333V286.1h0.333V283.8h0.333V287.4h0.333V287.1h0.333V286.5h0.333V286.7h0.333V284.6h0.333V280.6h0.333V287.0h0.333V283.1h0.333V285.0h0.333V283.7h0.333V285.2h0.333V281.5h0.333V287.5h0.333V283.9h0.333V287.5h0.333V286.6h0.333V280.6h0.333V287.4h0.333V286.5h0.333V286.8h0.333V286.5h0.333V287.0h0.333V287.4h0.333V282.9h0.333V285.8h0.333V287.4h0.333V281.1h0.333V281.6h0.333V286.6h0.333V282.8h0.333V282.3h0.333V287.5h0.333V286.8h0.333V281.5h0.333V284.5h0.333V283.6h0.333V284.0h0.333V285.5h0.333V286.9h0.667V286.0h0.333V285.6h0.333V286.9h0.333V286.2h0.333V287.0h0.333V287.2h0.333V284.1h0.333V287.2h0.333V283.0h0.333V284.3h0.333V285.2h0.333V280.8h0.333V286.4h0.333V287.2h0.333V287.4h0.333V282.7h0.333V284.5h0.333V285.8h0.333V287.4h0.333V283.7h0.333V287.4h0.333V287.3h0.333V285.9h0.333V287.4h0.333V285.5h0.333V281.6h0.333V286.8h0.333V284.2h0.333V282.5h0.333V287.2h0.333V287.5h0.333V287.2h0.667V286.2h0.333V287.1h0.333V286.0h0.333V287.4h0.333V282.6h0.333V285.8h0.333V285.9h0.333V281.6h0.333V287.2h0.333V281.4h0.333V283.5h0.333V286.4h0.333V284.1h0.333V286.1h0.333V286.9h0.333V281.2h0.333V281.3h0.333V287.4h1V287.0h0.333V287.4h0.667V285.6h0.333V284.6h0.333V283.5h0.333V287.4h0.333V287.3h0.333V286.9h0.333V287.3h0.333V286.6h0.333V287.4h0.333V285.7h0.667V287.1h0.333V284.4h0.333V280.8h0.333V281.6h0.333V281.4h0.333V286.2h0.333V284.6h0.333V285.3h0.333V287.4h0.333V281.0h0.333V287.4h0.333V281.1h0.333V287.5h0.333V284.6h0.333V285.5h0.333V283.2h0.333V287.4h0.333V280.8h0.333V286.6h0.333V286.9h0.333V283.7h0.333V285.5h0.333V286.9h0.333V286.4h0.333V282.2h0.333V287.4h0.333V286.2h0.333V286.9h0.333V284.9h0.333V286.0h0.333V282.3h0.333V287.2h0.333V287.0h0.333V284.7h0.333V285.8h0.333V283.7h0.333V287.3h0.333V280.5h0.333V286.9h0.333V280.5h0.333V287.4h0.333V283.5h0.333V283.4h0.333V287.1h0.333V284.0h0.333V283.1h0.333V286.1h0.333V287.4h0.333V287.4h0.333V282.3h0.333V281.5h0.667V284.3h0.333V287.3h0.333V284.7h0.333V284.2h0.333V286.4h0.333V287.4h0.333V281.3h0.333V287.3h0.333V287.4h0.333V287.3h0.333V285.9h0.333V285.6h0.333V285.9h0.333V287.4h0.667V283.8h0.333V286.1h0.333V287.0h0.333V287.1h0.333V280.8h0.333V285.3h0.333V286.3h0.333V281.3h0.333V287.5h0.333V286.7h0.333V287.4h0.333V284.0h0.333V287.5h0.333V283.3h0.333V284.9h0.333V287.3h0.333V287.0h0.333V287.2h0.333V286.8h0.333V285.2h0.333V286.9h0.333V285.5h0.333V285.8h0.333V286.9h0.333V287.2h0.333V282.6h0.333V287.4h0.333V280.6h0.333V287.4h0.333V287.2h0.333V287.4h0.333V287.1h0.333V284.6h0.333V285.7h0.333V281.6h0.333V286.8h0.333V286.1h0.333V285.6h0.333V286.3h0.333V286.1h0.333V285.0h0.333V287.1h0.333V287.4h0.333V287.2h0.333V283.3h0.333V281.9h0.333V286.5h0.333V281.2h0.333V286.2h0.333V282.8h0.333V286.9h0.333V287.3h0.333V283.3h0.333V281.7h0.333V283.3h0.333V283.2h0.333V287.3h0.333V287.0h0.333V281.6h0.333V286.0h0.333V283.4h0.333V281.8h0.333V285.0h0.333V284.8h0.333V280.7h0.333V287.0h0.333V284.5h0.333V280.6h0.333V287.4h0.667V283.7h0.333V282.3h0.333V281.3h0.333V286.2h0.333V286.9h0.333V287.4h0.333V287.2h0.333V283.6h0.333V286.0h0.333V287.1h0.333V284.9h0.333V281.3h0.333V281.5h0.333V287.1h0.333V285.2h0.333V283.6h0.333V287.1h0.333V286.2h0.333V282.5h0.333V286.3h0.333V287.2h0.333V285.5h0.333V287.0h0.333V287.4h0.333V285.9h0.333V285.0h0.333V286.6h0.333V286.3h0.333V287.4h0.333V284.6h0.333V285.7h0.333V281.4h0.333V287.2h0.333V280.4h0.333V287.3h0.333V287.4h0.333V285.8h0.333V284.2h0.333V287.0h0.333V284.9h0.333V286.4h0.333V287.4h0.333V281.1h0.333V287.4h0.333V287.1h0.333V286.5h0.333V286.5h0.333V284.0h0.333V284.9h0.333V285.2h0.333V284.3h0.333V287.4h0.667V286.7h0.333V287.4h0.333V282.6h0.333V285.5h0.333V280.6h0.333V287.0h0.333V282.4h0.333V286.6h0.333V282.1h0.333V283.4h0.333V286.4h0.333V286.5h0.333V287.0h0.333V286.6h0.333V283.6h0.333V286.3h0.333V286.4h0.333V282.0h0.333V283.5h0.333V284.7h0.333V287.1h0.333V281.2h0.333V284.7h0.333V284.9h0.333V283.7h0.333V280.7h0.333V284.3h0.333V286.6h0.333V287.2h0.333V287.3h0.333V280.5h0.333V281.7h0.333V285.5h0.333V282.8h0.333V285.4h0.333V283.8h0.333V285.5h0.333V284.4h0.333V285.8h0.333V287.4h0.333V287.0h0.333V281.2h0.333V285.6h0.333V286.1h0.333V285.2h0.333V284.8h0.333V283.2h0.333V287.4h0.333V286.4h0.333V280.5h0.333V281.1h0.333V283.8h0.333V287.1h0.333V284.5h0.333V286.8h0.333V286.8h0.333V287.5h0.333V284.9h0.333V287.0h0.333V281.4h0.333V287.3h0.333V287.4h0.333V284.0h0.333V286.2h0.333V287.5h0.333V282.5h0.333V284.4h0.333V286.9h0.333V287.3h0.333V287.0h0.333V283.1h0.333V285.3h0.333V287.3h0.333V285.2h0.333V280.9h0.333V286.5h0.333V282.9h0.333V284.7h0.333V286.9h0.333V287.3h0.333V282.3h0.333V286.8h0.333V284.2h0.333V284.5h0.333V282.8h0.333V285.5h0.333V287.5h0.333V280.6h0.333V282.5h0.333V287.4h0.333V284.5h0.333V287.1h0.333V284.5h0.333V286.3h0.333V285.7h0.333V286.8h0.333V287.1h0.333V287.5h0.333V285.4h0.333V287.4h0.333V286.3h0.333V287.0h0.333V283.8h0.333V284.8h0.333V286.1h0.333V286.7h0.333V286.3h0.333V285.9h0.333V282.0h0.333V287.5h0.667V285.2h0.333V287.3h0.333V282.8h0.333V284.5h0.333V286.4h0.333V285.7h0.333V280.5h0.333V282.8h0.333V287.2h0.333V285.8h0.333V287.0h0.333V286.0h0.333V287.4h0.667V286.7h0.333V287.4h0.333V281.3h0.333V283.8h0.333V285.5h0.333V286.3h0.333V284.7h0.333V286.4h0.333V286.9h0.333V285.1h0.333V287.3h0.667V283.8h0.333V281.0h0.333V287.4h0.333V287.2h0.333V284.2h0.333V287.4h0.333V283.3h0.333V287.3h0.333V287.4h0.333V281.0h0.333V287.2h0.333V287.3h0.333V285.2h0.333V287.5h0.333V286.7h0.333V287.2h0.333V287.3h0.333V280.9h0.333V287.1h0.333V284.7h0.333V287.3h0.333V287.1h0.333V284.4h0.333V284.7h0.333V286.7h0.333V286.2h0.667V285.9h0.333V287.5h0.333V286.8h0.333V287.4h0.333V281.7h0.333V286.1h0.333V283.7h0.333V287.2h0.333V284.2h0.333V282.4h0.333V287.3h0.333V282.7h0.333V283.9h0.333V284.2h0.333V283.0h0.333V287.4h0.333V287.5h0.333V286.8h0.333V287.5h0.333V285.4h0.333V287.5h0.333V287.1h0.333V287.4h0.333V285.0h0.333V287.4h0.333V286.8h0.333V285.6h0.333V286.7h0.333V287.5h0.333V287.3h0.333V287.5h0.333V285.5h0.333V285.8h0.333V287.4h0.333V284.4h0.667V287.5h0.333V287.1h0.333V283.5h0.333V281.6h0.333V286.7h0.333V283.7h0.333V280.7h0.333V282.4h0.333V285.3h0.333V282.0h0.333V282.1h0.333V282.8h0.333V281.0h0.333V286.6h0.333V287.4h0.667V287.1h0.333V285.3h0.333V286.4h0.333V280.6h0.333V286.8h0.333V287.3h0.667V286.9h0.333V287.5h0.333V287.0h0.333V280.5h0.333V287.4h0.333V287.2h0.333V284.2h0.333V281.4h0.333V287.0h0.667V286.3h0.333V287.4h0.333V280.9h0.333V285.2h0.333V287.5h0.333V287.3h0.333V285.6h0.333V280.9h0.333V287.4h0.333V286.4h0.333V284.6h0.333V282.6h0.333V287.4h1.667V283.0h0.333V287.4h0.333V284.1h0.333V285.7h0.333V282.5h0.333V280.8h0.333V283.6h0.333V286.3h0.667V285.4h0.333V286.0h0.333V287.4h0.333V284.6h0.333V283.4h0.333V286.4h0.333V283.2h0.333V281.6h0.333V286.7h0.333V286.9h0.333V287.5h0.667V287.4h0.333V286.6h0.333V283.7h0.333V297.5Z" fill="#d276a5"/>
<path d="M260.00,297.5V284.3h0.333V278.5h0.333V285.2h0.333V283.0h0.333V285.0h0.333V280.3h0.333V281.1h0.333V283.3h0.333V285.2h0.333V284.1h0.333V279.9h0.333V285.2h0.333V283.1h0.333V279.8h0.333V285.2h0.333V283.1h0.333V278.1h0.333V281.5h0.333V278.0h0.333V281.7h0.333V280.6h0.333V279.7h0.333V282.8h0.333V282.4h0.333V278.8h0.333V282.4h0.333V284.9h0.333V280.2h0.333V283.5h0.333V280.6h0.333V285.1h0.333V284.9h0.333V282.9h0.333V283.9h0.333V284.9h0.333V281.9h0.333V280.8h0.333V281.8h0.667V277.4h0.333V281.4h0.333V283.6h0.333V281.4h0.333V284.0h0.333V279.7h0.333V279.1h0.333V281.5h0.333V284.2h0.333V279.7h0.333V284.3h0.333V285.1h0.333V281.5h0.333V285.2h0.333V280.2h0.333V278.7h0.333V283.1h0.333V284.3h0.333V284.4h0.333V285.2h0.333V279.6h0.333V284.8h0.333V285.2h0.333V281.9h0.333V283.2h0.333V284.2h0.333V283.5h0.333V277.3h0.333V278.0h0.333V282.2h0.333V279.6h0.333V282.3h0.333V285.1h0.333V285.0h0.333V282.1h0.333V277.6h0.333V281.5h0.333V280.0h0.333V284.9h0.333V283.6h0.333V280.7h0.333V282.2h0.333V279.4h0.333V285.0h0.333V284.9h0.333V284.2h0.333V283.1h0.333V284.4h0.333V284.1h0.333V279.6h0.333V282.4h0.333V278.6h0.333V284.5h0.333V282.0h0.333V283.6h0.333V284.8h0.333V284.5h0.333V285.1h0.333V284.8h0.333V282.1h0.333V277.1h0.333V283.8h0.333V279.3h0.333V284.9h0.333V279.4h0.333V284.8h0.333V284.9h0.333V278.4h0.333V283.1h0.333V284.0h0.333V281.4h0.333V280.0h0.333V283.2h0.333V283.9h0.333V281.0h0.333V284.1h0.333V285.0h0.333V283.7h0.333V285.2h0.333V283.5h0.333V279.2h0.333V284.2h0.667V282.0h0.333V283.8h0.333V285.1h0.333V280.1h0.333V280.6h0.333V285.2h0.333V284.2h0.333V280.4h0.333V283.3h0.333V283.1h0.333V284.5h0.333V278.1h0.333V277.5h0.333V284.9h0.333V284.8h0.333V285.1h0.333V283.3h0.333V281.1h0.333V278.4h0.333V282.8h0.333V284.4h0.333V283.5h0.333V282.0h0.333V285.2h0.333V280.5h0.333V284.7h0.333V285.2h0.333V282.4h0.333V282.3h0.333V285.2h0.333V284.1h0.333V283.8h0.333V285.2h0.333V284.3h0.333V285.2h0.667V283.9h0.333V282.6h0.333V285.1h0.333V282.3h0.333V284.0h0.333V282.8h0.333V279.2h0.333V280.6h0.333V283.2h0.333V282.1h0.333V279.4h0.333V285.2h0.333V281.8h0.333V278.2h0.333V283.1h0.333V277.7h0.333V282.3h0.333V280.2h0.333V280.5h0.333V278.6h0.333V284.7h0.333V278.6h0.333V284.4h0.333V280.8h0.333V285.2h0.333V282.6h0.333V283.0h0.333V285.1h0.333V277.9h0.333V283.3h0.333V281.2h0.333V284.1h0.333V283.1h0.333V282.0h0.333V277.9h0.333V279.3h0.333V284.6h0.333V281.5h0.333V284.0h0.333V284.2h0.333V285.1h0.333V280.5h0.333V285.2h0.333V284.6h0.333V278.4h0.333V285.1h0.333V277.3h0.333V283.1h0.333V280.1h0.333V284.5h0.333V281.3h0.333V281.5h0.333V277.4h0.333V284.7h0.333V277.7h0.333V279.1h0.333V279.4h0.333V285.2h0.333V279.2h0.333V285.2h0.333V280.5h0.333V278.4h0.333V283.3h0.333V281.3h0.333V283.9h0.333V285.2h0.333V280.6h0.333V283.2h0.333V283.3h0.333V282.4h0.333V285.2h0.333V284.6h0.333V284.7h0.333V280.9h0.333V281.1h0.333V278.8h0.333V280.5h0.333V284.0h0.333V285.2h0.667V278.2h0.333V281.9h0.333V277.5h0.333V277.1h0.333V285.2h0.333V281.5h0.333V281.8h0.333V285.2h0.333V281.7h0.333V282.0h0.333V280.0h0.333V283.2h0.333V283.7h0.333V284.1h0.333V277.0h0.333V284.4h0.333V285.1h0.333V283.7h0.333V281.9h0.333V279.6h0.333V277.3h0.333V282.6h0.333V285.2h0.333V278.4h0.333V283.0h0.333V284.5h0.333V285.2h0.333V284.4h0.333V280.0h0.333V282.0h0.333V280.4h0.333V285.0h0.333V279.2h0.333V280.0h0.333V282.2h0.333V281.9h0.333V277.4h0.333V284.5h0.333V283.8h0.333V281.2h0.333V284.7h0.333V281.9h0.333V281.3h0.333V277.1h0.333V278.1h0.333V279.4h0.333V282.1h0.333V285.1h0.333V285.0h0.333V282.6h0.333V279.8h0.333V278.5h0.333V282.9h0.333V285.2h0.667V278.0h0.333V285.1h0.333V280.8h0.333V280.0h0.333V283.6h0.333V284.4h0.333V278.5h0.333V280.0h0.333V284.8h0.333V277.5h0.333V277.2h0.333V285.2h0.667V281.7h0.333V284.3h0.333V284.7h0.333V285.2h0.333V283.5h0.333V277.6h0.333V279.3h0.333V285.1h0.333V281.8h0.333V285.2h0.333V284.6h0.333V279.3h0.333V284.6h0.333V277.4h0.333V278.0h0.333V285.2h0.333V278.2h0.333V284.3h0.333V278.6h0.333V297.5Z" fill="#e7a00e"/>
<path d="M368.20,297.5V282.2h0.333V281.9h0.333V280.2h0.333V282.2h0.333V282.3h0.333V279.1h0.333V279.0h0.333V281.2h0.333V282.3h0.333V280.6h0.333V278.2h0.333V281.8h0.333V280.8h0.333V280.5h0.333V279.8h0.333V282.3h0.333V278.3h0.333V278.7h0.333V278.0h0.333V279.6h0.333V281.9h0.333V282.1h0.333V279.1h0.333V280.9h0.333V280.0h0.333V282.1h0.333V280.0h0.333V279.0h0.333V281.6h0.333V280.8h0.333V278.7h0.333V279.1h0.333V278.5h0.333V279.0h0.333V281.9h0.333V282.3h0.333V280.9h0.333V281.6h0.333V278.8h0.333V279.4h0.333V278.4h0.333V280.2h0.333V279.9h0.333V280.7h0.333V280.4h0.333V280.9h0.333V281.1h0.333V279.5h0.333V280.9h0.333V282.3h0.333V280.4h0.333V282.1h0.333V282.2h0.667V282.1h0.333V280.2h0.333V280.5h0.333V281.7h0.333V280.3h0.333V280.1h0.333V281.9h0.333V278.9h0.333V280.3h0.333V282.3h0.333V281.2h0.333V281.9h0.333V282.3h0.333V279.1h0.333V282.0h0.333V280.4h0.333V280.2h0.333V279.5h0.333V280.2h0.333V279.4h0.333V278.7h0.333V278.6h0.333V278.2h0.333V281.7h0.333V281.5h0.333V282.3h0.333V281.8h0.333V279.3h0.333V279.4h0.333V297.5Z" fill="#f0e532"/>
<path d="M395.80,297.5V294.2h0.333V297.5h2.333V294.5h0.333V292.4h0.333V291.7h0.333V297.5h0.667V296.0h0.333V293.6h0.333V297.5h0.333V292.9h0.333V297.5h0.333V291.4h0.333V292.6h0.333V295.7h0.333V289.1h0.333V297.5h0.333V292.4h0.333V293.5h0.333V290.2h0.333V295.1h0.333V295.3h0.333V295.8h0.333V295.4h0.333V297.5h1V292.0h0.333V293.4h0.333V297.5h0.333V290.8h0.333V288.0h0.333V297.5h0.333V290.4h0.333V294.1h0.333V290.8h0.333V297.5h0.333V288.3h0.333V297.5h0.333V287.8h0.333V297.5h0.333V295.8h0.333V292.2h0.333V297.5h1V290.7h0.333V297.5h0.667V291.5h0.333V295.8h0.333V297.5h0.667V288.1h0.333V295.5h0.333V294.2h0.333V289.1h0.333V291.0h0.333V292.9h0.333V297.5h0.333V289.4h0.333V288.0h0.333V297.5h0.333V291.8h0.333V295.5h0.333V293.6h0.333V297.5h0.333V292.7h0.333V292.6h0.333V297.5h0.333V294.5h0.333V297.5h0.333V294.9h0.333V289.3h0.333V291.7h0.333V294.7h0.333V295.1h0.333V293.7h0.333V297.5h0.333V292.0h0.333V290.1h0.333V297.5h0.333V288.0h0.333V294.4h0.333V291.0h0.333V291.3h0.333V289.4h0.333V289.3h0.333V293.9h0.333V292.9h0.333V292.5h0.333V297.5h0.667V287.9h0.333V295.9h0.333V297.5h0.333V296.0h0.333V293.1h0.333V297.5h0.333V295.5h0.333V295.9h0.333V293.2h0.333V297.5h1V288.8h0.333V297.5h0.333V294.1h0.333V295.7h0.333V297.5h0.333V295.3h0.333V290.0h0.333V292.3h0.333V295.0h0.333V293.0h0.333V297.5h0.333V291.3h0.333V290.6h0.333V297.5h0.333V287.7h0.333V293.0h0.333V295.8h0.333V297.5h0.333V296.0h0.333V292.7h0.333V294.9h0.333V297.5h0.333V295.6h0.333V297.5h1V292.7h0.333V297.5h1V290.3h0.333V295.6h0.333V295.4h0.333V294.8h0.333V297.5h0.333V289.9h0.333V297.5h0.333V290.4h0.333V293.9h0.333V291.6h0.333V297.5Z" fill="#58b0e3"/>
<path d="M446.00,297.5h0.333V293.5h0.333V293.1h0.333V288.4h0.333V291.8h0.333V294.8h0.333V294.0h0.667V292.4h0.333V292.4h0.333V297.5h0.333V295.1h0.333V294.0h0.333V286.0h0.333V288.8h0.333V290.2h0.333V294.3h0.333V295.5h0.333V297.5h0.667V295.5h0.333V289.8h0.333V288.4h0.333V294.2h0.333V297.5h0.667V291.6h0.333V297.5h0.333V291.4h0.333V295.3h0.333V291.4h0.333V292.1h0.333V290.9h0.333V292.6h0.333V297.5h0.333V286.9h0.333V297.5h1V291.1h0.333V295.1h0.333V294.1h0.333V291.1h0.333V292.4h0.333V293.6h0.333V286.9h0.333V293.5h0.333V292.4h0.333V288.6h0.333V297.5h0.667V285.7h0.333V292.2h0.333V293.5h0.333V297.5h0.333V291.0h0.333V293.0h0.333V293.8h0.333V285.9h0.333V286.6h0.333V297.5h0.667V295.5h0.333V297.5h0.333V293.6h0.333V297.5h0.333V287.7h0.333V297.5h0.333V291.6h0.333V292.9h0.333V287.8h0.333V289.7h0.333V294.0h0.333V290.7h0.333V289.1h0.333V286.1h0.333V290.9h0.333V297.5h0.333V293.7h0.333V290.5h0.333V297.5h0.333V295.4h0.333V297.5h0.333V294.4h0.333V297.5h0.333V287.3h0.333V294.0h0.333V292.0h0.333V290.7h0.333V294.0h0.333V295.5h0.333V288.8h0.333V286.6h0.333V289.8h0.333V286.7h0.333V287.4h0.333V285.9h0.333V294.6h0.333V294.8h0.333V292.9h0.333V293.1h0.333V292.7h0.333V288.1h0.333V289.1h0.333V285.6h0.333V297.5h0.333V287.5h0.333V297.5h0.667V290.6h0.333V293.0h0.333V290.2h0.333V288.6h0.333V292.5h0.333V287.5h0.333V294.8h0.333V294.2h0.333V292.6h0.333V297.5h0.333V293.9h0.333V285.9h0.333V294.1h0.333V289.7h0.333V297.5h0.333V293.4h0.333V291.7h0.333V297.5Z" fill="#1c74b6"/>
<path d="M45.5,255.1V301.3" stroke="#1a1a1a" stroke-width="1.3" fill="none"/><path d="M45,297.5H495.7" stroke="#222" stroke-width="1.5" fill="none"/>
<path d="M42,297.5H45.5M42,287.7H45.5M42,277.9H45.5M42,268.1H45.5M42,258.3H45.5" stroke="#222" stroke-width="1" fill="none"/>
<text transform="translate(39.2,300.7) scale(0.92,1)" class="tk">0</text>
<text transform="translate(39.2,290.9) scale(0.92,1)" class="tk">2</text>
<text transform="translate(39.2,281.1) scale(0.92,1)" class="tk">4</text>
<text transform="translate(39.2,271.3) scale(0.92,1)" class="tk">6</text>
<text transform="translate(39.2,261.5) scale(0.92,1)" class="tk">8</text>
<text transform="translate(54.4,262.3) scale(0.9,1)" class="gn">Pecam1</text>
<path d="M53.00,350.0V336.5h0.333V339.4h0.333V338.9h0.333V338.9h0.333V339.5h0.333V335.7h0.333V339.4h0.667V337.9h0.333V335.4h0.333V337.7h0.333V339.5h0.333V338.5h0.333V339.4h0.333V337.5h0.333V339.4h0.333V333.6h0.333V337.5h0.333V337.1h0.333V339.3h0.333V338.2h0.333V339.5h0.333V339.4h0.333V337.9h0.333V335.4h0.333V338.9h0.333V339.5h0.667V334.4h0.333V333.6h0.333V336.4h0.333V338.2h0.333V338.4h0.333V338.7h0.333V339.2h0.333V338.3h0.333V339.4h0.333V336.1h0.333V338.0h0.333V337.0h0.333V335.5h0.333V338.5h0.333V335.7h0.333V338.0h0.333V337.4h0.333V334.6h0.333V336.3h0.333V336.6h0.333V337.0h0.333V337.7h0.333V339.3h0.333V335.3h0.333V339.5h0.333V334.9h0.333V339.3h0.667V338.1h0.333V339.0h0.333V339.3h0.333V336.7h0.333V339.0h0.333V338.3h0.333V333.8h0.333V338.0h0.333V335.8h0.333V339.4h0.333V335.8h0.333V339.4h0.333V339.3h0.333V336.9h0.333V339.4h0.333V335.9h0.333V339.5h0.333V334.7h0.333V339.1h0.333V334.8h0.333V336.2h0.333V335.7h0.333V339.3h0.333V333.4h0.333V339.3h0.333V335.6h0.333V339.4h0.333V333.2h0.333V337.3h0.333V335.8h0.333V334.9h0.333V337.8h0.333V338.1h0.333V336.8h0.333V337.2h0.333V339.0h0.333V334.4h0.333V339.5h0.333V336.9h0.333V337.4h0.333V335.6h0.333V336.5h0.333V339.2h0.333V338.6h0.333V337.4h0.333V339.4h0.333V335.7h0.333V335.4h0.333V338.9h0.333V338.9h0.333V339.2h0.333V338.1h0.333V339.5h0.333V337.0h0.333V339.4h0.333V337.7h0.333V339.1h0.333V337.9h0.333V337.2h0.333V339.0h0.333V339.0h0.333V339.2h0.333V335.9h0.333V337.6h0.333V333.0h0.333V338.6h0.333V336.9h0.333V339.3h0.333V336.7h0.333V333.8h0.333V337.6h0.333V338.8h0.333V339.4h0.333V338.9h0.333V333.1h0.333V335.5h0.333V333.3h0.333V338.0h0.333V339.5h0.333V338.7h0.333V339.4h0.667V333.6h0.333V337.6h0.333V335.5h0.333V335.4h0.333V337.3h0.333V339.3h0.333V338.2h0.333V333.4h0.333V335.7h0.333V339.4h0.333V339.1h0.333V337.2h0.333V338.7h0.333V336.3h0.333V337.1h0.333V339.4h0.333V338.6h0.333V336.9h0.333V338.1h0.333V337.7h0.333V339.3h0.333V337.6h0.333V337.2h0.333V336.2h0.333V334.8h0.333V339.3h0.333V336.9h0.333V334.0h0.333V338.3h0.333V338.1h0.333V339.2h0.333V337.5h0.333V339.3h0.333V337.1h0.333V339.5h0.333V334.5h0.333V334.6h0.333V338.8h0.333V337.0h0.333V337.4h0.333V339.1h0.333V339.4h0.667V333.4h0.333V333.3h0.333V339.5h0.333V338.6h0.333V339.4h0.667V337.9h0.333V333.8h0.333V337.8h0.333V338.6h0.333V335.5h0.333V335.8h0.333V339.3h0.333V339.4h0.333V339.0h0.333V335.1h0.333V334.0h0.333V336.3h0.667V337.1h0.333V337.5h0.333V333.6h0.333V339.2h0.333V338.8h0.333V336.8h0.333V339.2h0.333V338.4h0.333V338.0h0.333V336.3h0.333V339.4h0.333V337.0h0.333V337.8h0.333V333.0h0.333V338.2h0.333V336.5h0.333V332.9h0.333V339.2h0.333V335.0h0.333V339.1h0.333V334.2h0.333V337.2h0.333V333.8h0.333V333.3h0.333V337.0h0.333V338.9h0.333V334.0h0.333V333.2h0.333V336.9h0.333V333.4h0.333V338.9h0.333V339.3h0.333V337.3h0.333V339.3h0.333V336.4h0.333V339.4h0.333V333.1h0.333V337.6h0.333V339.5h0.333V335.5h0.333V338.7h0.333V333.6h0.333V339.4h0.333V333.5h0.333V339.2h0.333V335.3h0.333V336.6h0.333V339.2h0.333V336.0h0.333V339.4h0.333V338.3h0.333V339.3h0.333V336.7h0.333V336.8h0.333V339.4h0.333V338.6h0.333V337.1h0.333V333.9h0.333V339.3h0.333V339.4h0.333V339.1h0.333V338.6h0.333V334.2h0.333V339.0h0.333V339.4h0.333V336.1h0.333V336.9h0.333V337.6h0.333V338.9h0.333V337.5h0.333V333.8h0.333V338.7h0.333V335.9h0.333V339.2h0.333V338.3h0.333V338.2h0.333V338.0h0.333V339.0h0.333V336.0h0.333V338.1h0.333V338.9h0.333V339.2h0.333V339.5h0.333V339.0h0.333V334.9h0.333V334.3h0.333V339.2h0.333V337.8h0.333V334.9h0.333V339.5h0.333V338.7h0.333V339.5h0.333V339.4h0.333V339.2h0.333V339.3h0.333V339.4h0.333V339.1h0.333V332.9h0.333V335.9h0.333V333.1h0.333V336.8h0.333V339.4h0.333V337.9h0.333V332.9h0.333V339.1h0.333V337.0h0.333V339.2h0.333V335.3h0.333V336.6h0.333V333.7h0.333V335.5h0.333V337.9h0.333V333.9h0.333V338.4h0.333V339.3h0.333V338.8h0.333V338.4h0.333V333.3h0.333V337.9h0.333V339.0h0.333V338.9h0.333V338.3h0.333V339.4h0.333V337.4h0.333V338.4h0.333V339.0h0.333V339.4h0.333V337.5h0.333V335.1h0.333V339.4h0.333V333.4h0.333V335.3h0.333V337.3h0.333V338.8h0.333V335.4h0.333V339.4h0.333V336.2h0.333V339.5h0.333V335.4h0.333V338.7h0.333V335.1h0.333V336.0h0.333V338.0h0.333V336.8h0.333V339.2h0.333V338.9h0.333V335.7h0.333V334.0h0.333V333.2h0.333V335.9h0.333V338.4h0.333V339.4h0.333V338.5h0.333V339.4h0.333V338.7h0.333V336.8h0.333V339.3h0.333V336.3h0.333V337.8h0.333V338.3h0.333V339.4h0.333V335.3h0.333V338.7h0.333V338.9h0.333V339.4h0.333V336.1h0.333V335.9h0.333V336.9h0.333V338.8h0.333V337.0h0.333V339.5h0.333V334.5h0.333V339.2h0.333V339.1h0.333V339.4h0.333V334.3h0.333V337.2h0.333V334.7h0.333V338.5h0.333V333.6h0.333V336.8h0.333V339.4h0.333V339.1h0.333V336.6h0.333V334.0h0.333V339.2h0.333V338.6h0.333V338.0h0.333V339.2h0.333V335.2h0.333V335.9h0.333V336.6h0.333V338.6h0.333V338.5h0.333V332.9h0.333V336.3h0.333V336.9h0.333V339.0h0.333V339.1h0.333V339.4h0.333V337.8h0.333V335.4h0.333V335.8h0.333V337.7h0.333V337.7h0.333V339.4h0.333V338.7h0.333V339.1h0.333V339.4h0.333V333.0h0.333V339.3h0.333V334.4h0.333V339.3h0.333V333.3h0.333V334.7h0.333V335.9h0.333V334.1h0.333V335.6h0.333V336.2h0.333V337.3h0.667V338.1h0.333V336.1h0.333V333.7h0.333V339.1h0.333V334.5h0.333V333.7h0.333V334.7h0.333V338.8h0.333V339.2h0.333V335.3h0.333V334.0h0.333V338.9h0.333V335.3h0.333V333.0h0.333V337.6h0.333V335.0h0.333V336.4h0.333V334.9h0.333V339.5h0.333V335.1h0.333V334.7h0.333V339.3h0.333V336.6h0.333V339.3h0.333V339.2h0.333V333.5h0.333V336.2h0.333V333.9h0.333V338.3h0.333V334.7h0.333V334.0h0.333V334.2h0.333V336.0h0.333V338.8h0.333V338.3h0.333V334.8h0.333V335.2h0.333V339.3h0.333V335.1h0.333V339.5h0.333V338.5h0.333V334.6h0.333V335.8h0.333V335.6h0.333V339.4h0.333V338.3h0.333V337.4h0.333V338.4h0.333V334.9h0.333V339.2h0.333V339.0h0.333V338.5h0.333V333.3h0.333V338.6h0.333V337.8h0.667V336.4h0.333V339.3h0.333V338.3h0.333V335.5h0.333V338.6h0.333V333.3h0.333V338.1h0.333V335.4h0.333V337.8h0.333V338.5h0.333V338.4h0.333V337.9h0.333V337.6h0.333V339.3h0.333V337.7h0.333V337.9h0.333V336.4h0.333V339.4h0.333V339.1h0.333V338.0h0.333V333.3h0.333V336.9h0.333V339.4h0.333V339.2h0.333V337.2h0.333V334.5h0.333V333.2h0.333V338.0h0.333V337.3h0.333V337.2h0.333V338.2h0.333V335.7h0.333V339.0h0.333V339.1h0.333V337.6h0.333V334.6h0.333V337.0h0.333V338.9h0.333V338.2h0.333V337.4h0.333V335.2h0.333V337.2h0.333V334.0h0.333V339.3h0.333V336.4h0.333V335.8h0.333V336.3h0.333V336.8h0.333V334.2h0.333V338.5h0.333V336.5h0.333V337.7h0.333V336.7h0.333V338.9h0.333V338.9h0.333V334.5h0.333V336.7h0.333V338.5h0.333V336.7h0.333V335.7h0.333V334.3h0.333V333.9h0.333V339.4h0.333V338.7h0.333V337.0h0.333V337.6h0.333V336.9h0.333V336.0h0.333V334.9h0.333V336.8h0.333V339.4h0.333V336.4h0.333V333.4h0.333V337.9h0.333V333.2h0.333V339.0h0.333V338.6h0.333V339.4h0.333V338.2h0.333V339.1h0.333V339.4h0.667V338.8h0.333V338.2h0.333V339.5h0.333V333.0h0.333V339.5h0.333V338.6h0.333V338.5h0.333V338.0h0.333V339.2h0.333V337.3h0.333V335.8h0.333V339.2h0.333V339.4h0.333V338.3h0.333V339.2h0.333V338.9h0.333V337.0h0.333V338.2h0.333V337.5h0.333V334.6h0.333V339.4h0.333V336.5h0.333V333.6h0.333V334.5h0.333V338.5h0.333V334.8h0.333V334.6h0.333V338.3h0.333V337.7h0.333V334.1h0.333V334.2h0.333V335.5h0.333V337.8h0.667V337.5h0.333V335.7h0.333V339.0h0.333V339.1h0.333V338.3h0.333V335.6h0.333V339.0h0.333V337.7h0.333V336.8h0.333V337.1h0.333V338.5h0.333V338.8h0.333V339.4h0.333V335.9h0.333V338.6h0.333V339.3h0.333V337.3h0.333V335.3h0.333V334.1h0.333V336.3h0.333V339.2h0.333V333.6h0.333V338.7h0.333V339.0h0.333V336.7h0.333V336.2h0.333V339.4h0.333V337.1h0.333V350.0Z" fill="#d276a5"/>
<path d="M260.00,350.0V334.8h0.333V335.8h0.333V331.0h0.333V332.9h0.333V331.4h0.333V335.1h0.333V336.4h0.333V334.0h0.333V335.0h0.333V334.3h0.333V331.1h0.333V332.0h0.333V331.3h0.333V334.8h0.333V330.7h0.333V334.9h0.333V335.5h0.333V335.5h0.333V337.2h0.333V337.2h0.333V337.2h0.333V336.3h0.333V334.8h0.333V333.2h0.333V330.9h0.333V337.2h0.333V333.5h0.333V333.9h0.333V335.1h0.333V334.8h0.333V331.8h0.333V334.6h0.333V331.5h0.333V331.6h0.333V335.8h0.333V330.3h0.333V334.9h0.333V334.3h0.333V333.8h0.333V336.0h0.333V333.2h0.333V333.0h0.333V332.8h0.333V336.3h0.333V337.1h0.333V332.4h0.333V336.8h0.333V333.8h0.333V334.9h0.333V331.7h0.333V337.3h0.667V331.3h0.333V337.3h0.333V336.6h0.333V332.7h0.333V337.1h0.333V333.1h0.333V336.0h0.333V335.8h0.333V333.9h0.333V332.5h0.333V332.0h0.333V336.9h0.333V335.5h0.333V331.0h0.333V334.2h0.333V330.5h0.333V333.5h0.333V333.8h0.333V335.3h0.333V337.0h0.333V334.3h0.333V333.0h0.333V334.8h0.333V333.8h0.333V332.5h0.333V336.0h0.333V337.2h0.667V336.0h0.333V337.2h0.333V337.2h0.333V336.1h0.333V334.2h0.333V337.3h0.333V333.6h0.333V330.0h0.333V332.7h0.333V335.0h0.333V335.8h0.333V336.6h0.333V331.1h0.333V332.2h0.333V336.2h0.333V333.8h0.333V329.9h0.333V331.8h0.333V333.3h0.333V332.9h0.333V333.7h0.333V335.8h0.333V333.4h0.333V332.7h0.333V337.1h0.333V332.8h0.333V335.4h0.333V337.3h0.333V336.1h0.333V333.4h0.333V336.5h0.333V335.7h0.333V330.0h0.333V333.4h0.333V331.0h0.333V337.0h0.333V337.3h0.333V335.8h0.333V334.1h0.333V337.2h0.333V334.7h0.333V334.5h0.333V336.1h0.333V336.5h0.333V336.9h0.333V331.5h0.333V336.3h0.333V331.4h0.333V330.5h0.333V333.6h0.333V330.7h0.333V333.0h0.333V337.2h0.333V336.6h0.333V336.9h0.333V335.6h0.333V336.5h0.333V332.6h0.333V330.7h0.333V336.8h0.333V336.3h0.333V332.9h0.333V334.9h0.333V336.3h0.333V335.4h0.333V333.0h0.333V330.0h0.333V336.9h0.333V332.7h0.333V335.1h0.333V336.2h0.333V333.0h0.333V334.8h0.333V335.4h0.333V335.6h0.333V336.3h0.333V334.7h0.333V331.9h0.333V336.9h0.333V334.9h0.333V337.1h0.333V330.1h0.333V334.6h0.333V336.3h0.333V337.2h0.333V336.1h0.333V337.2h0.333V330.5h0.333V336.7h0.333V336.1h0.333V336.9h0.333V330.8h0.333V330.4h0.333V334.9h0.333V333.5h0.333V337.2h0.333V332.2h0.333V337.2h0.667V336.9h0.333V336.7h0.333V333.3h0.333V335.1h0.333V337.2h0.333V337.1h0.333V336.4h0.333V331.8h0.333V335.3h0.333V336.9h0.333V337.2h0.333V330.8h0.333V336.4h0.333V335.1h0.333V334.0h0.333V331.3h0.333V330.4h0.333V333.6h0.333V336.9h0.333V331.9h0.333V337.3h0.333V337.1h0.333V330.9h0.333V332.0h0.333V332.4h0.333V334.7h0.333V333.2h0.333V333.7h0.333V336.7h0.333V337.0h0.333V337.1h0.333V336.9h0.333V330.2h0.333V335.1h0.333V336.6h0.333V334.2h0.333V336.9h0.333V333.0h0.333V336.5h0.333V336.5h0.333V334.6h0.333V337.0h0.333V336.5h0.333V336.9h0.333V337.2h0.333V334.9h0.333V336.1h0.333V336.8h0.333V337.3h0.333V334.5h0.333V330.1h0.333V337.1h0.333V337.2h0.333V331.9h0.333V337.3h0.333V332.0h0.333V336.6h0.333V332.2h0.333V331.4h0.333V336.3h0.333V336.8h0.333V337.2h0.333V336.8h0.333V336.1h0.333V334.7h0.333V332.8h0.333V335.5h0.333V332.3h0.333V335.4h0.667V337.0h0.333V334.1h0.333V330.0h0.333V333.9h0.333V336.6h0.333V331.7h0.333V334.6h0.333V336.7h0.333V336.9h0.333V334.0h0.333V336.6h0.333V335.7h0.333V336.6h0.333V333.5h0.333V336.9h0.333V335.0h0.333V333.8h0.333V330.4h0.333V334.1h0.333V335.0h0.333V336.5h0.333V333.5h0.333V336.5h0.333V330.0h0.333V333.4h0.333V330.7h0.333V335.1h0.333V335.6h0.333V336.8h0.333V337.1h0.333V336.2h0.333V337.0h0.333V334.9h0.333V334.6h0.333V336.3h0.333V329.9h0.333V336.4h0.667V336.3h0.333V336.1h0.333V337.2h0.333V336.4h0.333V331.8h0.333V334.7h0.333V331.9h0.333V337.3h0.333V331.9h0.333V336.9h0.333V336.8h0.333V333.4h0.333V333.3h0.333V337.3h0.333V333.7h0.333V337.1h0.333V333.6h0.333V331.1h0.333V336.0h0.333V334.8h0.333V337.2h0.333V337.0h0.333V332.6h0.333V333.9h0.333V332.0h0.333V336.1h0.333V329.9h0.333V337.2h0.333V330.0h0.333V336.8h0.333V337.0h0.333V336.2h0.333V331.4h0.333V330.2h0.333V333.4h0.333V335.4h0.333V336.3h0.333V336.8h0.333V350.0Z" fill="#e7a00e"/>
<path d="M368.20,350.0V334.6h0.333V338.1h0.333V334.3h0.333V337.6h0.333V334.7h0.333V338.0h0.333V338.2h0.333V337.1h0.333V337.9h0.333V337.5h0.333V335.8h0.333V337.8h0.333V338.2h0.333V335.1h0.333V334.1h0.333V337.7h0.333V335.4h0.333V336.4h0.333V333.8h0.333V333.5h0.333V336.8h0.333V334.7h0.333V335.4h0.333V336.9h0.333V335.4h0.333V336.9h0.333V337.8h0.333V337.2h0.333V338.2h0.333V337.9h0.333V334.2h0.333V338.1h0.333V337.7h0.333V334.3h0.333V338.2h0.333V336.6h0.333V334.1h0.333V338.0h0.333V336.6h0.333V337.9h0.333V337.8h0.333V336.1h0.333V337.5h0.333V338.1h0.333V336.7h0.333V338.0h0.333V338.2h0.667V336.4h0.333V335.1h0.667V337.4h0.333V336.4h0.333V338.0h0.333V338.2h0.333V335.4h0.333V335.8h0.333V335.7h0.333V337.4h0.333V337.5h0.333V338.2h0.333V333.5h0.333V334.9h0.333V337.5h0.333V336.3h0.667V336.9h0.333V336.5h0.333V333.6h0.333V333.7h0.333V337.4h0.333V338.0h0.333V338.2h0.333V334.8h0.333V337.8h0.333V335.1h0.333V336.6h0.333V336.5h0.333V333.4h0.333V336.1h0.333V333.6h0.333V336.9h0.333V337.3h0.333V350.0Z" fill="#f0e532"/>
<path d="M395.80,350.0h1.667V346.1h0.333V350.0h5.333V348.5h0.333V350.0h1.667V343.2h0.333V350.0h1V342.7h0.333V350.0h1.333V345.8h0.333V350.0h1.333V347.5h0.333V350.0h3.333V348.2h0.333V350.0h3.333V344.2h0.333V348.1h0.333V350.0h0.333V348.0h0.333V350.0h2.333V346.2h0.333V350.0h3.667V343.1h0.333V350.0h1.333V347.6h0.333V350.0h3.333V346.4h0.333V350.0h1V342.6h0.333V350.0h3.333V344.5h0.333V350.0h0.667V347.3h0.333V344.8h0.333V350.0h2.333V346.1h0.333V350.0h0.333V345.5h0.333V350.0h0.333V344.3h0.333V350.0h5.333V350.0Z" fill="#58b0e3"/>
<path d="M446.00,350.0h0.667V348.1h0.333V345.9h0.333V346.1h0.333V350.0h7.667V342.4h0.333V350.0h2V343.1h0.333V350.0h3V343.0h0.333V350.0h6V347.8h0.333V350.0h1V344.8h0.333V347.3h0.333V350.0h1.333V345.5h0.333V350.0h1.667V346.0h0.333V350.0h1.333V348.5h0.333V350.0h4V343.5h0.333V350.0h0.333V344.2h0.333V350.0h6.333V347.6h0.333V350.0h1.667V350.0Z" fill="#1c74b6"/>
<path d="M45.5,307.6V353.8" stroke="#1a1a1a" stroke-width="1.3" fill="none"/><path d="M45,350.0H495.7" stroke="#222" stroke-width="1.5" fill="none"/>
<path d="M42,350.0H45.5M42,340.2H45.5M42,330.4H45.5M42,320.6H45.5M42,310.8H45.5" stroke="#222" stroke-width="1" fill="none"/>
<text transform="translate(39.2,353.2) scale(0.92,1)" class="tk">0</text>
<text transform="translate(39.2,343.4) scale(0.92,1)" class="tk">2</text>
<text transform="translate(39.2,333.6) scale(0.92,1)" class="tk">4</text>
<text transform="translate(39.2,323.8) scale(0.92,1)" class="tk">6</text>
<text transform="translate(39.2,314.0) scale(0.92,1)" class="tk">8</text>
<text transform="translate(54.4,314.8) scale(0.9,1)" class="gn">Emcn</text>
<path d="M53.00,402.5h1.667V393.4h0.333V402.5h5V398.6h0.333V402.5h7V395.6h0.333V402.5h3V399.6h0.333V394.4h0.333V402.5h1.333V398.3h0.333V402.5h0.667V394.6h0.333V402.5h1.333V398.8h0.333V402.5h1V394.8h0.333V393.8h0.333V396.0h0.333V402.5h5.333V395.9h0.333V402.5h1.333V392.8h0.333V402.5h5V393.6h0.333V395.9h0.333V402.5h0.333V395.2h0.333V402.5h5V392.3h0.333V396.9h0.333V402.5h1V398.8h0.333V402.5h2.333V396.2h0.333V402.5h0.333V398.4h0.333V402.5h1.667V395.0h0.333V402.5h1.667V397.4h0.333V402.5h0.333V399.2h0.333V402.5h0.333V392.3h0.333V402.5h0.667V393.3h0.333V402.5h0.333V397.0h0.333V402.5h1.333V392.5h0.333V402.5h3.333V399.1h0.333V402.5h9V398.5h0.333V402.5h3V395.8h0.333V402.5h1.333V395.5h0.333V402.5h6.333V392.8h0.667V402.5h1.667V393.8h0.333V402.5h1V394.5h0.333V402.5h0.333V394.9h0.333V402.5h1.333V399.4h0.333V402.5h1.333V393.2h0.333V402.5h0.667V397.5h0.333V402.5h1V400.0h0.333V402.5h6.333V393.0h0.333V393.1h0.333V402.5h0.667V397.1h0.333V402.5h2.667V393.5h0.333V402.5h1V394.4h0.333V402.5h4.333V397.0h0.333V402.5h2.333V395.1h0.333V402.5h5.333V394.7h0.333V396.1h0.333V402.5h1.667V398.0h0.333V402.5h0.333V393.0h0.333V402.5h1.667V398.6h0.333V402.5h1.333V398.8h0.333V402.5h10.667V395.5h0.333V402.5h7V399.4h0.333V395.6h0.333V402.5h0.333V392.5h0.333V397.1h0.333V402.5h3V395.3h0.333V402.5h13.333V391.7h0.333V402.5h5.333V393.2h0.333V394.5h0.333V402.5h1V393.8h0.333V402.5h0.333V397.7h0.333V402.5h2.667V399.1h0.333V402.5h2.333V398.5h0.333V402.5h0.333V391.9h0.333V402.5h5V396.8h0.333V402.5h9V398.1h0.333V402.5h2.667V395.8h0.333V402.5h2.333V396.1h0.333V402.5h0.667V399.8h0.333V402.5h3V395.2h0.333V402.5h3.667V397.0h0.333V402.5h3.333V402.5Z" fill="#c25a9c"/>
<path d="M260.00,402.5h7.667V393.9h0.333V402.5h4V394.4h0.333V402.5h2.667V395.1h0.333V402.5h4V397.4h0.333V402.5h1.333V398.2h0.333V395.3h0.333V402.5h2V398.8h0.333V402.5h0.667V395.2h0.333V402.5h5V397.5h0.333V402.5h0.667V395.8h0.333V402.5h1V393.7h0.333V394.3h0.333V402.5h7.333V395.8h0.333V402.5h0.333V394.6h0.333V402.5h4V394.9h0.333V402.5h4.333V396.1h0.333V402.5h0.667V398.1h0.333V394.2h0.333V402.5h2.667V399.0h0.333V402.5h1.333V395.9h0.333V402.5h11.667V396.5h0.333V402.5h1.667V395.9h0.333V402.5h0.333V399.2h0.333V398.9h0.333V402.5h1V399.4h0.333V402.5h2.333V397.4h0.333V402.5h1.333V398.6h0.333V402.5h4V397.4h0.333V402.5h5.333V396.0h0.333V402.5h6.667V395.8h0.333V402.5h3.667V399.2h0.333V395.8h0.333V402.5h1.333V395.4h0.333V402.5h8V398.9h0.333V402.5Z" fill="#e7a00e"/>
<path d="M368.20,402.5h1.667V394.4h0.333V402.5h1.333V396.1h0.333V395.8h0.333V402.5h1.333V394.2h0.333V402.5h8V397.2h0.333V402.5h1.667V399.0h0.333V402.5h1.333V394.2h0.333V402.5h3V394.0h0.333V402.5h3.667V399.6h0.333V402.5h2V397.3h0.333V402.5h0.333V402.5Z" fill="#f0e532"/>
<path d="M395.80,402.5V370.5h0.333V364.9h0.333V365.8h0.333V383.2h0.333V381.1h0.333V368.1h0.333V371.3h0.333V368.7h0.333V372.8h0.333V376.6h0.333V378.5h0.333V374.4h0.333V374.1h0.333V370.2h0.333V375.2h0.333V368.5h0.333V369.3h0.333V375.7h0.333V388.5h0.333V375.3h0.333V375.8h0.333V385.7h0.333V376.4h0.333V373.9h0.333V373.1h0.333V369.8h0.333V394.3h0.333V369.0h0.333V368.7h0.333V365.7h0.333V376.6h0.333V388.1h0.333V381.3h0.333V368.5h0.333V368.9h0.333V371.5h0.333V392.8h0.333V366.6h0.333V366.1h0.333V381.6h0.333V376.5h0.333V386.9h0.333V365.2h0.333V376.8h0.333V374.9h0.333V372.0h0.333V371.9h0.333V380.8h0.333V373.2h0.333V366.5h0.333V375.7h0.333V368.4h0.333V386.5h0.333V386.7h0.333V368.5h0.333V389.8h0.333V392.4h0.333V369.1h0.333V369.9h0.333V385.5h0.333V382.8h0.333V365.5h0.333V375.9h0.333V377.3h0.333V368.5h0.333V368.9h0.333V382.2h0.333V386.6h0.333V374.8h0.333V364.7h0.333V378.6h0.333V380.8h0.333V374.5h0.333V375.5h0.333V378.7h0.333V374.5h0.333V372.5h0.333V378.4h0.333V383.1h0.333V386.8h0.333V367.2h0.333V370.2h0.333V382.6h0.333V367.0h0.333V386.0h0.333V388.7h0.333V379.3h0.333V389.7h0.333V373.3h0.333V370.2h0.333V367.7h0.333V366.7h0.333V378.8h0.333V377.1h0.333V381.8h0.333V387.3h0.333V365.9h0.333V381.2h0.333V388.1h0.333V367.7h0.333V378.2h0.333V370.2h0.333V365.2h0.333V365.7h0.333V376.2h0.333V382.1h0.333V374.3h0.333V366.7h0.333V367.4h0.333V380.2h0.333V374.5h0.333V366.2h0.333V377.6h0.333V379.6h0.333V375.0h0.333V378.6h0.333V367.5h0.333V365.5h0.333V382.6h0.333V366.7h0.333V366.8h0.333V367.7h0.333V365.3h0.333V377.9h0.333V372.0h0.333V380.3h0.333V376.8h0.333V382.5h0.333V373.9h0.333V365.4h0.333V385.8h0.333V376.8h0.333V376.7h0.333V369.8h0.333V384.7h0.333V375.3h0.333V368.3h0.333V378.5h0.333V381.0h0.333V381.2h0.333V380.7h0.333V386.4h0.333V371.3h0.333V367.8h0.333V381.9h0.333V388.7h0.333V390.5h0.333V372.8h0.333V376.1h0.333V375.7h0.333V387.4h0.333V402.5Z" fill="#58b0e3"/>
<path d="M446.00,402.5V379.3h0.333V377.0h0.333V370.7h0.333V371.5h0.333V373.3h0.333V383.8h0.333V371.7h0.333V379.0h0.333V379.4h0.333V370.2h0.333V384.8h0.333V378.2h0.333V370.5h0.333V373.9h0.333V375.1h0.333V373.6h0.333V385.4h0.333V370.7h0.333V373.3h0.333V375.2h0.333V370.3h0.333V377.3h0.333V372.7h0.333V388.2h0.333V378.7h0.333V386.3h0.333V375.6h0.333V381.5h0.333V379.0h0.333V392.2h0.333V382.2h0.333V374.2h0.333V377.7h0.333V377.6h0.333V384.6h0.333V390.0h0.333V380.6h0.333V375.2h0.333V385.6h0.333V377.5h0.333V389.4h0.333V377.1h0.333V392.6h0.333V391.1h0.333V370.4h0.333V377.3h0.333V388.0h0.333V381.6h0.333V392.6h0.333V371.4h0.333V379.1h0.333V374.8h0.333V375.5h0.333V386.0h0.333V377.7h0.333V377.9h0.333V384.9h0.333V372.4h0.333V384.2h0.333V383.6h0.333V375.5h0.333V381.5h0.333V373.8h0.333V372.7h0.333V372.4h0.333V376.4h0.333V384.0h0.333V390.3h0.667V387.3h0.333V373.5h0.333V376.6h0.333V386.6h0.333V372.0h0.333V381.8h0.333V385.4h0.333V374.8h0.333V370.4h0.333V375.2h0.333V374.1h0.333V370.4h0.333V374.6h0.333V392.3h0.333V388.2h0.333V385.7h0.333V378.4h0.333V376.4h0.333V390.8h0.333V373.4h0.333V393.0h0.333V385.9h0.333V384.3h0.333V385.8h0.333V388.3h0.333V374.4h0.333V385.4h0.333V386.3h0.333V373.3h0.333V390.8h0.333V392.7h0.333V370.9h0.333V378.7h0.333V382.1h0.333V377.0h0.333V383.7h0.333V380.3h0.333V383.3h0.333V372.6h0.333V370.4h0.667V382.9h0.333V375.4h0.333V381.1h0.333V376.4h0.333V393.4h0.333V372.2h0.333V372.9h0.333V372.7h0.333V373.0h0.333V386.2h0.333V385.1h0.333V370.8h0.333V387.1h0.333V373.9h0.333V392.8h0.333V386.5h0.333V402.5Z" fill="#1c74b6"/>
<path d="M45.5,360.1V406.3" stroke="#1a1a1a" stroke-width="1.3" fill="none"/><path d="M45,402.5H495.7" stroke="#222" stroke-width="1.5" fill="none"/>
<path d="M42,402.5H45.5M42,392.7H45.5M42,382.9H45.5M42,373.1H45.5M42,363.3H45.5" stroke="#222" stroke-width="1" fill="none"/>
<text transform="translate(39.2,405.7) scale(0.92,1)" class="tk">0</text>
<text transform="translate(39.2,395.9) scale(0.92,1)" class="tk">2</text>
<text transform="translate(39.2,386.1) scale(0.92,1)" class="tk">4</text>
<text transform="translate(39.2,376.3) scale(0.92,1)" class="tk">6</text>
<text transform="translate(39.2,366.5) scale(0.92,1)" class="tk">8</text>
<text transform="translate(54.4,367.3) scale(0.9,1)" class="gn">Bglap</text>
<path d="M395.80,455.0V436.1h0.333V452.7h0.333V434.1h0.333V455.0h0.667V434.3h0.333V441.7h0.333V438.3h0.333V437.7h0.333V434.8h0.333V455.0h0.333V452.0h0.333V447.1h0.333V450.9h0.333V432.9h0.333V446.6h0.333V446.2h0.333V455.0h0.333V443.2h0.333V447.9h0.333V441.6h0.333V450.0h0.333V452.9h0.333V437.9h0.333V448.9h0.333V446.7h0.333V443.9h0.333V449.7h0.333V438.1h0.333V442.1h0.333V434.7h0.333V432.4h0.333V452.9h0.333V439.1h0.333V455.0h0.333V444.2h0.333V442.9h0.333V455.0h0.333V452.1h0.333V435.9h0.333V436.4h0.333V455.0h0.333V440.0h0.333V446.7h0.333V443.9h0.333V448.5h0.333V432.8h0.333V450.0h0.333V439.5h0.333V445.5h0.333V449.6h0.333V437.6h0.333V452.9h0.333V451.7h0.333V452.7h0.333V448.5h0.333V441.8h0.333V450.7h0.333V451.4h0.333V455.0h0.333V447.9h0.333V455.0h0.333V451.5h0.333V432.3h0.333V450.5h0.333V434.7h0.333V452.8h0.333V440.1h0.333V438.8h0.333V455.0h0.333V436.2h0.333V452.8h0.333V451.2h0.333V435.7h0.333V441.8h0.333V445.3h0.333V435.0h0.333V451.9h0.333V444.3h0.333V433.0h0.333V436.6h0.333V451.4h0.333V452.9h0.333V450.5h0.333V444.6h0.333V439.2h0.333V455.0h0.333V452.7h0.333V452.9h0.333V450.9h0.333V436.7h0.333V439.1h0.333V447.3h0.333V441.2h0.333V453.0h0.333V450.2h0.333V444.1h0.333V433.4h0.333V447.7h0.333V435.9h0.333V450.4h0.333V437.3h0.333V444.2h0.333V441.1h0.333V441.3h0.333V453.0h0.333V444.8h0.333V450.2h0.333V452.4h0.333V448.0h0.333V455.0h0.333V452.7h0.333V438.6h0.333V441.7h0.333V451.3h0.333V450.5h0.333V442.9h0.333V452.2h0.333V453.0h0.333V449.5h0.333V448.8h0.333V439.1h0.333V455.0h0.333V442.4h0.333V452.7h0.333V453.0h0.333V435.8h0.333V448.6h0.333V446.3h0.333V448.8h0.333V444.6h0.333V452.8h0.333V447.8h0.333V452.0h0.333V452.6h0.333V450.7h0.333V451.4h0.333V452.0h0.333V437.6h0.333V446.6h0.333V449.8h0.333V452.6h0.333V448.5h0.333V452.7h0.333V451.9h0.333V455.0h0.333V449.8h0.333V451.9h0.333V452.9h0.333V444.6h0.333V450.0h0.333V455.0Z" fill="#58b0e3"/>
<path d="M446.00,455.0h2.667V449.3h0.333V455.0h5V448.0h0.333V455.0h1V449.3h0.333V455.0h2V451.7h0.333V455.0h1.667V449.6h0.333V455.0h0.333V449.7h0.333V455.0h1V451.4h0.333V455.0h2V449.4h0.333V455.0h3V451.5h0.333V455.0h2.667V452.3h0.333V455.0h3V449.2h0.333V455.0h2V450.7h0.333V448.2h0.333V455.0h0.667V451.9h0.333V455.0h4V446.4h0.333V455.0h3V446.2h0.333V455.0h0.333V449.7h0.333V455.0h0.333V446.9h0.333V455.0h0.333V450.5h0.333V455.0h0.667V455.0Z" fill="#1c74b6"/>
<rect x="178.1" y="450.4" width="0.8" height="4.6" fill="#d276a5" opacity="0.75"/>
<rect x="295.0" y="446.0" width="0.8" height="9.0" fill="#e7a00e" opacity="0.75"/>
<path d="M45.5,412.6V458.8" stroke="#1a1a1a" stroke-width="1.3" fill="none"/><path d="M45,455.0H495.7" stroke="#222" stroke-width="1.5" fill="none"/>
<path d="M42,455.0H45.5M42,445.2H45.5M42,435.4H45.5M42,425.6H45.5M42,415.8H45.5" stroke="#222" stroke-width="1" fill="none"/>
<text transform="translate(39.2,458.2) scale(0.92,1)" class="tk">0</text>
<text transform="translate(39.2,448.4) scale(0.92,1)" class="tk">2</text>
<text transform="translate(39.2,438.6) scale(0.92,1)" class="tk">4</text>
<text transform="translate(39.2,428.8) scale(0.92,1)" class="tk">6</text>
<text transform="translate(39.2,419.0) scale(0.92,1)" class="tk">8</text>
<text transform="translate(54.4,419.8) scale(0.9,1)" class="gn">Dmp1</text>
<path d="M395.80,507.5h0.667V502.6h0.333V495.7h0.333V499.2h0.333V500.4h0.333V493.0h0.333V507.5h0.667V503.9h0.333V503.3h0.333V507.5h0.667V505.7h0.333V501.7h0.333V507.5h0.333V503.6h0.333V500.5h0.333V500.5h0.333V505.9h0.333V501.8h0.333V507.5h0.333V504.3h0.333V507.5h0.667V494.9h0.333V506.0h0.333V507.5h0.333V492.8h0.333V506.0h0.333V498.7h0.333V499.4h0.333V499.2h0.333V498.4h0.333V503.8h0.333V507.5h0.333V505.9h0.333V507.5h0.667V501.8h0.333V499.7h0.333V507.5h0.333V504.1h0.333V505.7h0.333V499.7h0.333V507.5h0.667V504.3h0.333V507.5h0.667V505.9h0.333V497.5h0.333V499.4h0.333V498.9h0.333V505.8h0.333V505.1h0.333V501.6h0.333V507.5h0.333V505.5h0.333V505.3h0.333V502.1h0.333V499.6h0.333V505.9h0.667V494.8h0.333V507.5h1V502.2h0.333V504.5h0.333V507.5h0.333V493.4h0.333V505.1h0.333V498.5h0.333V505.3h0.333V500.0h0.333V495.2h0.333V498.1h0.333V493.5h0.333V491.1h0.333V497.8h0.333V492.6h0.333V497.8h0.333V497.1h0.333V503.9h0.333V506.0h0.333V505.4h0.333V505.1h0.333V501.3h0.333V497.7h0.333V507.5h0.333V499.5h0.333V507.5h0.667V494.7h0.333V502.8h0.333V497.6h0.333V504.5h0.333V506.0h0.333V507.5h0.333V505.8h0.333V507.5h0.667V505.3h0.333V506.0h0.333V504.2h0.333V507.5h0.333V498.6h0.333V500.1h0.333V497.4h0.333V507.5h0.333V491.7h0.333V507.5h0.333V502.5h0.333V505.5h0.333V504.2h0.333V506.0h0.333V505.5h0.333V505.7h0.333V507.5h0.333V505.9h0.333V507.5h0.333V505.3h0.333V495.4h0.333V500.9h0.333V495.0h0.333V507.5h0.667V498.7h0.333V494.7h0.333V506.0h0.333V492.4h0.333V505.8h0.333V507.5h0.333V501.0h0.333V505.0h0.333V492.8h0.333V498.3h0.333V505.1h0.333V507.5h0.667V506.0h0.333V507.5h0.333V494.6h0.333V502.0h0.333V501.3h0.333V506.0h0.333V494.5h0.333V502.7h0.333V507.5h0.333V505.3h0.333V507.5Z" fill="#58b0e3"/>
<path d="M446.00,507.5h0.333V504.5h0.333V507.5h5.667V503.9h0.333V507.5h0.333V503.4h0.333V507.5h7.667V504.9h0.333V507.5h0.333V503.1h0.333V507.5h2.667V499.3h0.333V507.5h0.333V499.8h0.333V507.5h4.333V499.2h0.333V507.5h4V500.0h0.333V507.5h2.333V503.7h0.333V503.2h0.333V507.5h0.333V504.7h0.333V503.7h0.333V503.1h0.333V504.0h0.333V507.5h2.667V498.7h0.333V507.5h0.333V501.1h0.333V504.4h0.333V507.5h4.667V507.5Z" fill="#1c74b6"/>
<rect x="104.1" y="502.5" width="0.8" height="5.0" fill="#d276a5" opacity="0.75"/>
<rect x="177.9" y="502.5" width="0.8" height="5.0" fill="#d276a5" opacity="0.75"/>
<rect x="179.2" y="503.5" width="0.8" height="4.0" fill="#d276a5" opacity="0.75"/>
<rect x="186.6" y="502.5" width="0.8" height="5.0" fill="#d276a5" opacity="0.75"/>
<rect x="189.1" y="501.5" width="0.8" height="6.0" fill="#d276a5" opacity="0.75"/>
<rect x="227.6" y="502.5" width="0.8" height="5.0" fill="#d276a5" opacity="0.75"/>
<rect x="260.2" y="496.0" width="0.8" height="11.5" fill="#d276a5" opacity="0.75"/>
<rect x="326.1" y="497.9" width="0.8" height="9.6" fill="#e7a00e" opacity="0.75"/>
<rect x="328.1" y="500.5" width="0.8" height="7.0" fill="#e7a00e" opacity="0.75"/>
<rect x="341.1" y="501.5" width="0.8" height="6.0" fill="#e7a00e" opacity="0.75"/>
<rect x="344.1" y="502.5" width="0.8" height="5.0" fill="#e7a00e" opacity="0.75"/>
<rect x="347.1" y="501.5" width="0.8" height="6.0" fill="#e7a00e" opacity="0.75"/>
<rect x="390.6" y="502.5" width="0.8" height="5.0" fill="#f0e532" opacity="0.75"/>
<path d="M45.5,465.1V511.3" stroke="#1a1a1a" stroke-width="1.3" fill="none"/><path d="M45,507.5H495.7" stroke="#222" stroke-width="1.5" fill="none"/>
<path d="M42,507.5H45.5M42,497.7H45.5M42,487.9H45.5M42,478.1H45.5M42,468.3H45.5" stroke="#222" stroke-width="1" fill="none"/>
<text transform="translate(39.2,510.7) scale(0.92,1)" class="tk">0</text>
<text transform="translate(39.2,500.9) scale(0.92,1)" class="tk">2</text>
<text transform="translate(39.2,491.1) scale(0.92,1)" class="tk">4</text>
<text transform="translate(39.2,481.3) scale(0.92,1)" class="tk">6</text>
<text transform="translate(39.2,471.5) scale(0.92,1)" class="tk">8</text>
<text transform="translate(54.4,472.3) scale(0.9,1)" class="gn">Phex</text>
<path d="M395.80,560.0V551.3h0.333V552.8h0.333V547.3h0.333V548.3h0.333V556.9h0.333V555.4h0.333V548.7h0.333V560.0h0.333V551.6h0.333V553.9h0.333V552.2h0.333V560.0h0.333V548.7h0.333V553.7h0.333V555.3h0.333V549.0h0.333V552.7h0.333V550.2h0.333V557.4h0.333V553.6h0.333V547.5h0.333V556.8h0.333V556.9h0.333V552.9h0.333V550.4h0.333V556.3h0.333V550.1h0.333V551.0h0.333V560.0h0.667V556.8h0.333V553.2h0.333V556.1h0.333V547.6h0.333V554.2h0.333V550.7h0.333V550.1h0.333V555.9h0.333V550.6h0.333V548.5h0.333V556.0h0.333V556.5h0.333V555.3h0.333V552.2h0.333V556.7h0.333V554.3h0.333V548.8h0.333V557.0h0.333V556.7h0.333V556.0h0.333V553.9h0.333V550.1h0.333V556.1h0.333V557.0h0.333V548.6h0.333V560.0h0.333V557.5h0.333V556.7h0.333V552.0h0.333V560.0h0.333V555.8h0.333V550.4h0.333V555.3h0.333V551.4h0.333V557.5h0.333V551.5h0.333V551.5h0.333V555.7h0.333V548.1h0.333V548.4h0.333V553.8h0.333V560.0h0.333V553.1h0.333V554.5h0.333V552.6h0.333V560.0h0.333V548.2h0.333V560.0h0.333V548.8h0.333V556.5h0.333V552.1h0.333V555.4h0.333V551.8h0.333V551.0h0.333V556.5h0.333V557.4h0.667V560.0h0.667V552.3h0.333V560.0h0.333V554.7h0.333V556.6h0.333V549.6h0.333V557.3h0.333V549.1h0.333V560.0h0.333V557.5h0.333V551.0h0.333V553.4h0.333V547.4h0.333V548.2h0.333V555.0h0.333V557.1h0.333V555.3h0.333V549.4h0.333V550.8h0.333V556.1h0.333V556.4h0.333V555.3h0.333V549.6h0.333V547.6h0.333V551.4h0.333V560.0h0.333V548.9h0.333V553.0h0.333V552.9h0.333V550.3h0.333V551.1h0.333V553.3h0.333V553.8h0.333V552.2h0.333V554.7h0.333V560.0h0.333V555.1h0.333V552.2h0.333V556.9h0.333V556.5h0.333V554.5h0.333V549.4h0.333V551.0h0.333V553.9h0.333V556.0h0.333V550.9h0.333V548.7h0.333V555.4h0.333V556.8h0.333V554.1h0.333V555.6h0.333V552.9h0.333V552.6h0.333V550.8h0.333V552.1h0.333V553.8h0.333V548.6h0.333V557.2h0.333V557.1h0.333V554.1h0.333V553.9h0.333V551.1h0.333V554.2h0.333V560.0Z" fill="#58b0e3"/>
<path d="M446.00,560.0V553.3h0.333V548.1h0.333V551.6h0.333V548.6h0.333V553.0h0.333V552.0h0.333V554.7h0.333V549.6h0.333V553.1h0.333V553.8h0.333V549.0h0.333V555.0h0.333V552.4h0.333V551.3h0.333V554.5h0.333V552.0h0.333V550.5h0.333V554.6h0.333V553.0h0.333V548.2h0.333V547.9h0.333V549.8h0.667V554.8h0.333V548.7h0.333V555.4h0.333V553.6h0.333V554.7h0.333V549.3h0.333V552.6h0.333V549.6h0.333V551.8h0.333V554.9h0.333V548.6h0.333V555.6h0.333V553.7h0.333V555.2h0.333V552.7h0.333V555.4h0.333V555.2h0.333V548.8h0.333V553.6h0.333V551.6h0.333V551.5h0.333V549.3h0.333V551.8h0.333V555.5h0.333V553.1h0.333V549.4h0.333V555.3h0.333V554.7h0.333V555.1h0.333V551.0h0.333V549.3h0.333V555.2h0.333V552.8h0.333V554.9h0.333V549.9h0.333V553.2h0.333V554.2h0.333V553.4h0.333V555.1h0.333V552.0h0.333V548.8h0.333V552.9h0.333V553.4h0.333V553.6h0.333V555.0h0.333V555.3h0.333V554.6h0.333V554.9h0.333V551.7h0.333V554.1h0.333V552.1h0.333V549.1h0.333V555.0h0.333V555.4h0.333V548.9h0.333V552.4h0.333V552.9h0.333V548.7h0.333V547.9h0.333V555.1h0.333V554.3h0.333V552.6h0.333V554.7h0.333V549.1h0.333V549.6h0.333V553.4h0.333V549.3h0.333V548.6h0.333V554.5h0.333V549.8h0.333V552.2h0.333V550.0h0.333V547.8h0.333V553.5h0.333V552.8h0.333V548.7h0.333V555.6h0.333V552.1h0.333V554.6h0.333V555.6h0.333V554.6h0.333V553.1h0.333V554.7h0.333V554.3h0.333V552.8h0.333V548.0h0.333V555.5h0.333V550.5h0.333V551.6h0.333V554.0h0.333V553.1h0.333V548.8h0.333V550.3h0.333V552.8h0.333V551.6h0.333V551.9h0.333V554.4h0.333V550.6h0.333V552.0h0.333V553.3h0.333V554.0h0.333V550.6h0.333V553.1h0.333V560.0Z" fill="#1c74b6"/>
<rect x="64.0" y="553.2" width="0.8" height="6.8" fill="#d276a5" opacity="0.75"/>
<rect x="69.1" y="553.2" width="0.8" height="6.8" fill="#d276a5" opacity="0.75"/>
<rect x="107.2" y="549.0" width="0.8" height="11.0" fill="#d276a5" opacity="0.75"/>
<rect x="108.2" y="550.0" width="0.8" height="10.0" fill="#d276a5" opacity="0.75"/>
<rect x="112.8" y="552.0" width="0.8" height="8.0" fill="#d276a5" opacity="0.75"/>
<rect x="114.2" y="550.5" width="0.8" height="9.5" fill="#d276a5" opacity="0.75"/>
<rect x="115.6" y="552.0" width="0.8" height="8.0" fill="#d276a5" opacity="0.75"/>
<rect x="125.6" y="549.0" width="0.8" height="11.0" fill="#d276a5" opacity="0.75"/>
<rect x="140.1" y="555.0" width="0.8" height="5.0" fill="#d276a5" opacity="0.75"/>
<rect x="149.0" y="554.0" width="0.8" height="6.0" fill="#d276a5" opacity="0.75"/>
<rect x="165.2" y="553.0" width="0.8" height="7.0" fill="#d276a5" opacity="0.75"/>
<rect x="166.9" y="551.0" width="0.8" height="9.0" fill="#d276a5" opacity="0.75"/>
<rect x="167.8" y="552.0" width="0.8" height="8.0" fill="#d276a5" opacity="0.75"/>
<rect x="177.4" y="557.0" width="0.8" height="3.0" fill="#d276a5" opacity="0.75"/>
<rect x="198.6" y="555.0" width="0.8" height="5.0" fill="#d276a5" opacity="0.75"/>
<rect x="206.0" y="554.0" width="0.8" height="6.0" fill="#d276a5" opacity="0.75"/>
<rect x="222.6" y="554.0" width="0.8" height="6.0" fill="#d276a5" opacity="0.75"/>
<rect x="224.4" y="554.0" width="0.8" height="6.0" fill="#d276a5" opacity="0.75"/>
<rect x="226.2" y="554.0" width="0.8" height="6.0" fill="#d276a5" opacity="0.75"/>
<rect x="228.2" y="555.0" width="0.8" height="5.0" fill="#d276a5" opacity="0.75"/>
<rect x="243.8" y="554.0" width="0.8" height="6.0" fill="#d276a5" opacity="0.75"/>
<rect x="259.9" y="555.0" width="0.8" height="5.0" fill="#e7a00e" opacity="0.75"/>
<rect x="278.4" y="554.0" width="0.8" height="6.0" fill="#e7a00e" opacity="0.75"/>
<rect x="296.1" y="553.0" width="0.8" height="7.0" fill="#e7a00e" opacity="0.75"/>
<rect x="298.1" y="554.0" width="0.8" height="6.0" fill="#e7a00e" opacity="0.75"/>
<rect x="301.1" y="553.0" width="0.8" height="7.0" fill="#e7a00e" opacity="0.75"/>
<rect x="322.1" y="555.0" width="0.8" height="5.0" fill="#e7a00e" opacity="0.75"/>
<rect x="324.6" y="554.0" width="0.8" height="6.0" fill="#e7a00e" opacity="0.75"/>
<rect x="331.6" y="555.0" width="0.8" height="5.0" fill="#e7a00e" opacity="0.75"/>
<rect x="338.2" y="553.0" width="0.8" height="7.0" fill="#e7a00e" opacity="0.75"/>
<rect x="340.4" y="554.0" width="0.8" height="6.0" fill="#e7a00e" opacity="0.75"/>
<rect x="349.2" y="555.0" width="0.8" height="5.0" fill="#e7a00e" opacity="0.75"/>
<rect x="366.8" y="553.0" width="0.8" height="7.0" fill="#e7a00e" opacity="0.75"/>
<rect x="369.1" y="554.0" width="0.8" height="6.0" fill="#f0e532" opacity="0.75"/>
<rect x="382.4" y="555.0" width="0.8" height="5.0" fill="#f0e532" opacity="0.75"/>
<path d="M45.5,517.6V563.8" stroke="#1a1a1a" stroke-width="1.3" fill="none"/><path d="M45,560.0H495.7" stroke="#222" stroke-width="1.5" fill="none"/>
<path d="M42,560.0H45.5M42,550.2H45.5M42,540.4H45.5M42,530.6H45.5M42,520.8H45.5" stroke="#222" stroke-width="1" fill="none"/>
<text transform="translate(39.2,563.2) scale(0.92,1)" class="tk">0</text>
<text transform="translate(39.2,553.4) scale(0.92,1)" class="tk">2</text>
<text transform="translate(39.2,543.6) scale(0.92,1)" class="tk">4</text>
<text transform="translate(39.2,533.8) scale(0.92,1)" class="tk">6</text>
<text transform="translate(39.2,524.0) scale(0.92,1)" class="tk">8</text>
<text transform="translate(54.4,524.8) scale(0.9,1)" class="gn">Enpp1</text>
<path d="M395.80,612.5h1V607.1h0.333V612.5h1V608.1h0.333V612.5h0.667V607.3h0.333V606.9h0.333V609.1h0.333V610.8h0.333V610.5h0.333V610.0h0.333V608.6h0.333V612.5h1.667V609.3h0.667V612.5h1.333V607.8h0.333V612.5h1V607.1h0.333V609.6h0.333V610.0h0.333V612.5h0.333V608.9h0.333V608.7h0.333V612.5h0.333V610.6h0.333V610.1h0.333V612.5h1.333V610.8h0.333V607.5h0.333V612.5h0.333V607.1h0.333V612.5h1.667V610.3h0.333V612.5h1.667V608.9h0.333V612.5h4V610.5h0.333V610.5h0.333V608.9h0.333V607.0h0.333V612.5h1V609.2h0.333V612.5h1V607.1h0.333V610.5h0.333V612.5h0.333V610.5h0.333V612.5h0.333V610.4h0.333V612.5h0.333V607.3h0.333V612.5h0.333V607.4h0.333V606.8h0.333V610.8h0.333V606.8h0.333V610.0h0.333V612.5h0.333V608.4h0.333V612.5h3V610.3h0.333V612.5h0.667V610.4h0.333V612.5h0.667V609.3h0.333V612.5h2V606.7h0.333V609.6h0.333V612.5h0.667V607.0h0.333V612.5h2V609.0h0.333V609.0h0.333V612.5h0.333V606.8h0.333V612.5h1.667V608.2h0.333V612.5h0.667V610.6h0.333V610.9h0.333V609.2h0.333V612.5h0.667V610.5h0.333V612.5Z" fill="#58b0e3"/>
<path d="M446.00,612.5V607.5h0.333V607.9h0.333V606.3h0.333V609.4h0.333V612.5h0.333V607.5h0.333V612.5h0.333V608.9h0.333V609.1h0.333V608.8h0.333V612.5h1.333V610.3h0.333V612.5h0.667V608.3h0.333V606.7h0.333V612.5h1V607.1h0.333V612.5h0.333V610.4h0.333V612.5h0.667V607.8h0.333V607.1h0.333V606.4h0.333V612.5h0.333V607.6h0.333V610.0h0.333V612.5h0.333V606.2h0.333V612.5h0.667V609.9h0.333V610.5h0.333V606.6h0.333V605.9h0.333V605.8h0.333V609.3h0.333V612.5h0.333V608.2h0.333V612.5h0.667V607.3h0.333V607.7h0.333V606.8h0.333V612.5h1V609.0h0.333V608.5h0.333V612.5h0.333V609.2h0.333V612.5h0.333V605.8h0.333V612.5h0.333V609.3h0.333V612.5h0.667V608.0h0.333V612.5h1V606.0h0.333V612.5h1.333V610.3h0.333V606.2h0.333V608.7h0.333V609.7h0.333V608.2h0.333V612.5h0.333V609.5h0.333V610.2h0.333V612.5h1.333V606.1h0.333V612.5h0.667V610.2h0.333V610.4h0.333V608.0h0.333V612.5h0.667V610.5h0.333V612.5h0.333V610.4h0.333V612.5h0.667V607.2h0.333V612.5h0.333V609.3h0.333V608.2h0.333V609.1h0.333V612.5h0.667V608.6h0.333V608.0h0.333V607.0h0.333V609.8h0.333V612.5h0.333V608.6h0.333V612.5h0.333V609.8h0.333V610.0h0.333V610.5h0.333V606.5h0.333V612.5h0.333V606.2h0.333V609.3h0.333V606.8h0.333V610.4h0.333V610.3h0.333V608.6h0.333V612.5h0.333V607.6h0.333V608.1h0.333V612.5h0.333V612.5Z" fill="#1c74b6"/>
<rect x="194.6" y="605.5" width="0.8" height="7.0" fill="#d276a5" opacity="0.75"/>
<path d="M45.5,570.1V616.3" stroke="#1a1a1a" stroke-width="1.3" fill="none"/><path d="M45,612.5H495.7" stroke="#222" stroke-width="1.5" fill="none"/>
<path d="M42,612.5H45.5M42,602.7H45.5M42,592.9H45.5M42,583.1H45.5M42,573.3H45.5" stroke="#222" stroke-width="1" fill="none"/>
<text transform="translate(39.2,615.7) scale(0.92,1)" class="tk">0</text>
<text transform="translate(39.2,605.9) scale(0.92,1)" class="tk">2</text>
<text transform="translate(39.2,596.1) scale(0.92,1)" class="tk">4</text>
<text transform="translate(39.2,586.3) scale(0.92,1)" class="tk">6</text>
<text transform="translate(39.2,576.5) scale(0.92,1)" class="tk">8</text>
<text transform="translate(54.4,577.3) scale(0.9,1)" class="gn">Galnt3</text>
<path d="M53.00,665.0V661.0h0.333V659.1h0.333V660.3h0.333V656.7h0.333V656.5h0.333V659.2h0.333V654.5h0.333V659.6h0.333V657.1h0.333V656.0h0.333V656.7h0.333V653.5h0.333V654.2h0.333V657.2h0.333V661.9h0.333V658.6h0.333V655.3h0.333V658.5h0.333V655.7h0.333V654.9h0.333V656.7h0.333V665.0h0.333V653.3h0.333V658.5h0.333V665.0h0.333V658.2h0.333V656.9h0.333V658.9h0.333V665.0h0.333V659.3h0.333V655.3h0.333V655.2h0.333V657.9h0.333V665.0h0.667V660.7h0.333V654.1h0.333V659.7h0.333V658.8h0.333V665.0h0.333V658.3h0.333V654.7h0.333V660.5h0.333V661.7h0.333V659.2h0.333V653.9h0.333V661.2h0.333V665.0h0.333V653.6h0.333V661.7h0.333V659.9h0.333V653.7h0.333V659.2h0.333V665.0h0.333V657.0h0.333V652.8h0.333V654.1h0.333V660.9h0.333V655.0h0.333V653.4h0.333V665.0h0.333V658.7h0.333V657.0h0.333V658.4h0.333V652.9h0.333V654.2h0.333V657.9h0.333V654.1h0.333V660.9h0.333V661.4h0.333V660.0h0.333V665.0h0.333V655.2h0.333V659.4h0.333V656.6h0.333V665.0h0.333V654.0h0.333V657.3h0.333V658.2h0.333V665.0h0.667V653.4h0.333V659.2h0.333V665.0h0.333V652.9h0.333V659.7h0.333V654.0h0.333V660.5h0.333V660.6h0.333V660.2h0.333V656.0h0.333V653.0h0.333V665.0h1.667V662.0h0.667V658.4h0.333V658.7h0.333V658.6h0.333V656.7h0.333V658.5h0.333V660.7h0.333V654.9h0.333V665.0h0.333V661.5h0.333V655.1h0.333V661.0h0.333V658.5h0.333V659.2h0.333V658.8h0.333V653.6h0.333V654.7h0.333V660.4h0.333V665.0h0.333V660.4h0.333V659.5h0.333V661.9h0.333V661.3h0.333V660.4h0.333V661.1h0.333V652.8h0.333V665.0h0.333V660.1h0.333V660.5h0.333V657.9h0.333V658.4h0.333V661.0h0.333V658.8h0.333V661.8h0.333V660.2h0.333V653.4h0.333V661.6h0.333V656.8h0.333V657.1h0.333V665.0h0.333V659.0h0.333V661.6h0.333V660.7h0.333V654.7h0.333V658.5h0.333V660.7h0.333V657.1h0.333V665.0h0.667V660.1h0.333V653.3h0.333V659.8h0.333V661.7h0.333V665.0h0.333V654.2h0.333V656.1h0.333V654.5h0.333V665.0h0.333V656.2h0.333V659.7h0.333V655.1h0.333V665.0h0.333V653.3h0.333V661.0h0.333V659.6h0.333V658.6h0.333V653.8h0.333V660.1h0.333V657.9h0.333V660.2h0.333V653.5h0.333V659.9h0.333V658.5h0.333V659.1h0.333V653.7h0.333V661.1h0.333V657.4h0.333V660.0h0.333V659.3h0.333V652.9h0.333V659.1h0.333V661.0h0.333V657.2h0.333V658.8h0.333V665.0h0.667V654.3h0.333V660.2h0.333V657.8h0.333V658.8h0.333V655.6h0.333V658.9h0.333V654.7h0.333V656.2h0.333V653.2h0.333V653.0h0.333V657.4h0.333V659.9h0.333V661.3h0.333V665.0h0.667V661.0h0.333V665.0h0.333V656.5h0.333V653.6h0.333V658.6h0.333V653.3h0.333V657.2h0.333V656.1h0.333V654.1h0.333V665.0h0.333V658.2h0.333V657.0h0.333V665.0h0.333V659.1h0.333V653.4h0.333V655.3h0.333V660.0h0.333V661.0h0.333V657.3h0.667V653.3h0.333V665.0h0.333V656.2h0.333V661.0h0.333V653.2h0.333V653.3h0.333V655.0h0.333V661.5h0.333V655.2h0.333V665.0h0.333V658.2h0.333V665.0h0.333V658.6h0.333V665.0h0.333V661.7h0.333V657.5h0.333V657.2h0.333V655.0h0.333V653.8h0.333V655.0h0.333V659.0h0.333V652.8h0.333V665.0h0.333V659.5h0.333V660.3h0.333V665.0h0.333V655.2h0.333V661.9h0.333V659.8h0.333V659.4h0.333V654.1h0.333V659.2h0.333V659.6h0.333V655.3h0.333V655.8h0.333V658.4h0.333V665.0h0.333V657.3h0.333V655.1h0.333V656.2h0.333V654.1h0.333V665.0h0.667V659.8h0.333V665.0h0.333V659.4h0.333V653.9h0.333V654.1h0.333V655.1h0.333V654.3h0.333V657.6h0.333V659.6h0.333V665.0h0.333V658.4h0.333V656.3h0.333V660.8h0.333V665.0h0.333V654.1h0.333V655.4h0.333V658.6h0.333V653.5h0.333V655.2h0.333V653.4h0.333V665.0h0.333V661.9h0.333V665.0h0.667V659.2h0.333V656.7h0.333V665.0h0.333V661.0h0.333V654.0h0.333V665.0h0.667V656.9h0.333V657.4h0.333V654.1h0.333V654.6h0.333V654.9h0.333V665.0h0.333V661.6h0.333V665.0h0.333V657.0h0.333V658.6h0.333V654.2h0.333V658.7h0.333V665.0h0.333V654.7h0.333V661.9h0.333V665.0h0.333V657.4h0.333V653.2h0.333V657.5h0.333V658.9h0.333V654.4h0.333V661.3h0.333V655.3h0.333V655.7h0.333V655.9h0.333V665.0h0.333V659.8h0.333V658.8h0.333V653.7h0.333V656.5h0.333V656.8h0.333V661.8h0.333V658.4h0.333V660.9h0.333V662.0h0.333V653.3h0.333V657.6h0.333V661.4h0.333V656.5h0.333V656.9h0.333V659.2h0.333V655.4h0.333V665.0h0.667V661.2h0.333V665.0h0.667V655.4h0.333V653.3h0.333V661.6h0.333V662.0h0.333V665.0h0.333V661.2h0.333V654.9h0.333V657.3h0.667V653.4h0.333V665.0h0.333V652.9h0.333V652.8h0.333V658.3h0.333V665.0h0.667V659.9h0.333V654.1h0.333V656.9h0.333V656.4h0.333V655.1h0.333V654.7h0.333V656.4h0.333V661.8h0.333V658.6h0.333V658.0h0.333V661.7h0.333V658.1h0.333V661.3h0.333V659.4h0.333V661.4h0.333V665.0h0.333V655.1h0.333V654.4h0.333V658.1h0.333V660.5h0.333V665.0h0.333V657.3h0.333V654.6h0.333V657.3h0.333V659.9h0.333V665.0h0.667V656.1h0.333V660.5h0.333V665.0h0.667V660.1h0.333V665.0h0.333V658.1h0.333V660.5h0.333V653.1h0.333V659.7h0.333V655.9h0.333V656.6h0.333V654.3h0.333V665.0h0.333V661.0h0.333V653.2h0.333V654.1h0.333V660.3h0.333V661.8h0.333V656.4h0.333V658.6h0.333V653.6h0.333V657.2h0.333V656.7h0.333V665.0h0.667V661.4h0.333V653.5h0.333V653.2h0.333V660.0h0.333V655.9h0.333V653.5h0.333V658.7h0.333V665.0h0.333V658.4h0.333V659.9h0.333V656.7h0.333V665.0h0.333V660.1h0.333V665.0h0.333V661.8h0.333V654.0h0.333V661.7h0.333V655.9h0.333V661.3h0.333V653.5h0.333V653.3h0.333V659.3h0.333V654.9h0.333V660.6h0.333V665.0h0.333V654.4h0.333V655.2h0.333V653.7h0.333V665.0h0.333V654.7h0.333V661.8h0.333V661.2h0.333V660.2h0.333V659.7h0.333V658.3h0.333V657.5h0.333V665.0h0.333V658.2h0.333V665.0h0.333V661.4h0.333V656.9h0.333V660.6h0.333V665.0h0.333V656.5h0.333V655.0h0.333V654.0h0.333V661.2h0.333V665.0h0.333V660.2h0.333V659.6h0.333V653.8h0.333V655.9h0.333V661.9h0.333V656.8h0.333V665.0h0.333V653.3h0.333V658.6h0.333V655.9h0.333V657.3h0.333V661.1h0.333V653.9h0.333V660.8h0.333V656.9h0.333V654.9h0.333V655.7h0.333V656.7h0.333V660.8h0.333V657.9h0.333V654.3h0.333V665.0h0.333V656.1h0.333V657.0h0.333V660.9h0.333V654.0h0.333V661.7h0.333V656.0h0.333V653.5h0.333V665.0h0.667V653.0h0.333V665.0h0.667V655.3h0.333V653.7h0.333V657.6h0.333V658.0h0.333V665.0h0.333V657.8h0.333V665.0h0.333V661.7h0.333V665.0h0.333V654.2h0.333V665.0h0.333V659.1h0.333V654.5h0.333V665.0h0.333V653.4h0.333V661.3h0.333V657.2h0.333V655.1h0.333V657.3h0.333V660.7h0.333V661.6h0.333V659.6h0.333V658.3h0.333V660.9h0.333V656.4h0.333V659.4h0.333V652.9h0.333V652.8h0.333V659.9h0.333V658.7h0.333V658.6h0.333V659.0h0.333V657.5h0.333V661.8h0.333V665.0h0.667V659.5h0.333V661.5h0.333V654.5h0.333V665.0h0.333V657.9h0.333V656.9h0.333V658.2h0.333V654.9h0.333V654.5h0.333V665.0h0.333V655.5h0.333V653.4h0.333V656.8h0.333V656.3h0.333V653.6h0.333V665.0h0.333V655.5h0.333V665.0h0.333V660.7h0.333V660.3h0.333V665.0h0.333V653.1h0.333V665.0h0.333V653.6h0.333V653.9h0.333V665.0h0.667V654.8h0.333V665.0h0.333V653.2h0.333V655.1h0.333V660.6h0.333V653.8h0.333V659.7h0.333V657.8h0.333V658.1h0.333V665.0h0.667V655.0h0.333V661.7h0.333V654.6h0.333V660.7h0.333V661.3h0.333V660.0h0.333V658.1h0.333V665.0h0.333V655.6h0.333V665.0h0.667V657.0h0.333V660.4h0.333V658.6h0.333V659.3h0.333V665.0h0.333V656.3h0.333V659.7h0.333V653.4h0.333V658.8h0.333V665.0h0.333V655.8h0.333V656.8h0.333V654.9h0.333V655.6h0.333V665.0h0.333V654.8h0.333V661.1h0.333V654.7h0.333V660.5h0.333V665.0h0.333V658.1h0.333V665.0h0.333V660.2h0.333V660.2h0.333V665.0h0.333V661.8h0.333V655.2h0.333V657.7h0.333V655.5h0.333V665.0h0.667V655.8h0.333V657.7h0.333V661.2h0.333V665.0h0.333V662.0h0.333V659.8h0.333V656.8h0.333V658.7h0.333V653.6h0.333V659.3h0.333V657.4h0.333V661.8h0.333V661.3h0.333V665.0h0.333V665.0Z" fill="#c25a9c"/>
<path d="M260.00,665.0h0.333V658.9h0.333V665.0h1V657.6h0.333V665.0h1.333V657.2h0.333V665.0h0.333V655.1h0.333V665.0h0.333V661.8h0.333V656.5h0.333V665.0h1.333V655.0h0.333V665.0h1.667V656.1h0.333V665.0h0.667V659.3h0.333V665.0h0.667V655.9h0.333V656.6h0.333V665.0h0.333V653.0h0.333V665.0h0.667V656.2h0.333V665.0h0.333V661.4h0.333V665.0h2.333V661.2h0.333V665.0h0.333V655.9h0.333V654.4h0.333V665.0h0.333V658.7h0.333V665.0h0.333V654.3h0.333V665.0h0.333V659.4h0.333V653.8h0.333V665.0h0.667V654.1h0.333V659.6h0.333V665.0h0.667V661.6h0.333V665.0h1V660.4h0.333V665.0h2V659.1h0.333V665.0h1V657.9h0.333V665.0h0.667V659.1h0.333V665.0h0.667V657.6h0.333V665.0h0.333V654.6h0.333V653.9h0.333V665.0h1.667V654.2h0.333V654.1h0.333V665.0h0.333V653.9h0.333V665.0h0.333V661.9h0.333V661.7h0.333V665.0h0.667V652.3h0.333V665.0h0.333V658.2h0.333V660.2h0.333V665.0h1.667V661.9h0.333V656.8h0.333V665.0h0.667V658.7h0.333V660.4h0.333V665.0h0.333V661.6h0.333V655.7h0.333V658.4h0.333V661.6h0.333V656.3h0.333V658.8h0.333V665.0h0.333V659.9h0.333V652.6h0.333V665.0h0.667V655.9h0.333V665.0h1.333V660.0h0.333V656.6h0.333V665.0h0.667V659.0h0.333V665.0h1V661.3h0.333V665.0h0.333V657.1h0.333V654.2h0.333V655.9h0.333V655.7h0.333V660.9h0.333V652.4h0.333V665.0h0.333V661.8h0.333V665.0h0.667V653.3h0.333V665.0h0.667V659.5h0.333V665.0h0.667V653.8h0.333V665.0h1V661.8h0.333V665.0h0.333V659.6h0.333V665.0h0.667V659.1h0.333V652.7h0.333V658.5h0.333V665.0h1.667V660.4h0.333V665.0h0.333V654.5h0.333V660.5h0.333V652.7h0.333V665.0h1V655.2h0.333V665.0h0.667V659.1h0.333V661.9h0.333V665.0h0.667V658.5h0.333V665.0h0.667V659.3h0.333V665.0h0.667V654.4h0.333V665.0h0.333V657.0h0.333V661.7h0.667V665.0h0.667V659.1h0.333V665.0h1V657.1h0.333V665.0h0.333V655.1h0.333V655.0h0.333V657.9h0.333V665.0h1.333V659.2h0.333V665.0h0.333V656.8h0.333V661.8h0.333V665.0h0.667V657.2h0.333V661.7h0.333V665.0h0.333V660.1h0.333V658.4h0.333V655.6h0.333V665.0h0.667V658.2h0.333V659.8h0.333V665.0h0.333V661.4h0.333V665.0h0.333V652.7h0.333V660.4h0.333V655.4h0.333V661.5h0.333V665.0h2.333V655.6h0.333V653.6h0.333V665.0h1V653.6h0.333V665.0h1V658.8h0.333V655.4h0.333V658.4h0.333V657.0h0.333V661.4h0.333V661.3h0.333V665.0h0.333V654.4h0.333V661.2h0.333V665.0h1V657.8h0.333V665.0h0.667V652.9h0.333V656.7h0.333V653.1h0.333V665.0h1V658.1h0.333V665.0h0.333V659.5h0.333V665.0h0.333V660.1h0.333V658.8h0.333V665.0h0.667V652.8h0.333V665.0h0.333V652.3h0.333V665.0h0.667V659.9h0.333V665.0h0.667V653.3h0.333V657.9h0.333V665.0h1V654.9h0.333V665.0h0.333V662.0h0.333V665.0h1V652.5h0.333V665.0h0.333V657.7h0.333V659.3h0.333V653.8h0.333V665.0h0.333V661.3h0.333V659.0h0.333V659.1h0.333V658.0h0.333V665.0h0.333V659.2h0.333V657.3h0.333V660.7h0.333V665.0h1.333V665.0Z" fill="#e7a00e"/>
<path d="M368.20,665.0h3V661.9h0.333V665.0h1V661.0h0.333V665.0h2V663.3h0.333V665.0h10.667V660.9h0.333V665.0h1V663.0h0.333V665.0h2.333V663.4h0.333V665.0h3.333V662.9h0.333V665.0h2.000V665.0Z" fill="#f0e532"/>
<rect x="402.1" y="660.0" width="0.8" height="5.0" fill="#58b0e3" opacity="0.75"/>
<rect x="425.6" y="661.0" width="0.8" height="4.0" fill="#58b0e3" opacity="0.75"/>
<rect x="429.6" y="660.5" width="0.8" height="4.5" fill="#58b0e3" opacity="0.75"/>
<rect x="433.6" y="660.0" width="0.8" height="5.0" fill="#58b0e3" opacity="0.75"/>
<rect x="437.6" y="659.0" width="0.8" height="6.0" fill="#58b0e3" opacity="0.75"/>
<rect x="441.1" y="660.0" width="0.8" height="5.0" fill="#58b0e3" opacity="0.75"/>
<rect x="469.6" y="661.0" width="0.8" height="4.0" fill="#1c74b6" opacity="0.75"/>
<rect x="474.6" y="660.0" width="0.8" height="5.0" fill="#1c74b6" opacity="0.75"/>
<rect x="481.1" y="657.5" width="0.8" height="7.5" fill="#1c74b6" opacity="0.75"/>
<path d="M45.5,622.6V668.8" stroke="#1a1a1a" stroke-width="1.3" fill="none"/><path d="M45,665.0H495.7" stroke="#222" stroke-width="1.5" fill="none"/>
<path d="M42,665.0H45.5M42,655.2H45.5M42,645.4H45.5M42,635.6H45.5M42,625.8H45.5" stroke="#222" stroke-width="1" fill="none"/>
<text transform="translate(39.2,668.2) scale(0.92,1)" class="tk">0</text>
<text transform="translate(39.2,658.4) scale(0.92,1)" class="tk">2</text>
<text transform="translate(39.2,648.6) scale(0.92,1)" class="tk">4</text>
<text transform="translate(39.2,638.8) scale(0.92,1)" class="tk">6</text>
<text transform="translate(39.2,629.0) scale(0.92,1)" class="tk">8</text>
<text transform="translate(54.4,629.8) scale(0.9,1)" class="gn">Epor</text>
<path d="M45.5,675.1V721.3" stroke="#1a1a1a" stroke-width="1.3" fill="none"/><path d="M45,717.5H495.7" stroke="#222" stroke-width="1.5" fill="none"/>
<path d="M42,717.5H45.5M42,707.7H45.5M42,697.9H45.5M42,688.1H45.5M42,678.3H45.5" stroke="#222" stroke-width="1" fill="none"/>
<text transform="translate(39.2,720.7) scale(0.92,1)" class="tk">0</text>
<text transform="translate(39.2,710.9) scale(0.92,1)" class="tk">2</text>
<text transform="translate(39.2,701.1) scale(0.92,1)" class="tk">4</text>
<text transform="translate(39.2,691.3) scale(0.92,1)" class="tk">6</text>
<text transform="translate(39.2,681.5) scale(0.92,1)" class="tk">8</text>
<text transform="translate(54.4,682.3) scale(0.9,1)" class="gn">Tmprss6</text>
<text transform="translate(28.4,514.3) rotate(-90) scale(0.765,1)" class="ex" stroke="#2a2a2a" stroke-width="0.35">Expression [ln(TP10K)]</text>
<text x="124.2" y="735.4" class="bl" style="fill:#c77bb0">Sinusoidal EC</text>
<text x="279.5" y="735.4" class="bl" style="fill:#e6a93a">Arteriolar EC</text>
<text x="366.2" y="735.5" class="bl" style="fill:#ece26a">Arterial</text>
<text x="373.8" y="746.5" class="bl" style="fill:#ece26a">EC</text>
<text x="408.9" y="735.7" class="bl" style="fill:#6aa8d8">OLC1</text>
<text x="450.8" y="735.7" class="bl" style="fill:#2a64a0">OLC2</text>
</svg>
</body></html>
